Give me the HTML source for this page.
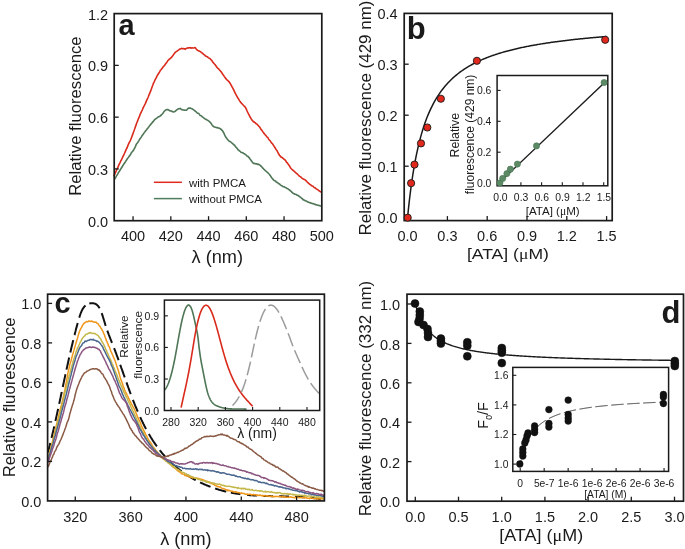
<!DOCTYPE html>
<html><head><meta charset="utf-8"><style>
html,body{margin:0;padding:0;background:#fff;width:685px;height:549px;overflow:hidden}
svg{display:block;will-change:transform}
text{font-family:"Liberation Sans",sans-serif}
</style></head><body>
<svg width="685" height="549" viewBox="0 0 685 549">
<rect width="685" height="549" fill="#fff"/>
<path d="M114.60,179.35 L115.29,178.21 L115.98,176.93 L116.67,175.50 L117.36,174.66 L118.05,173.43 L118.74,172.13 L119.43,171.17 L120.13,170.02 L120.82,168.90 L121.51,167.77 L122.20,166.76 L122.89,165.50 L123.58,164.53 L124.27,163.43 L124.96,162.55 L125.65,161.43 L126.34,160.36 L127.03,159.28 L127.72,158.35 L128.41,157.39 L129.10,156.35 L129.79,155.59 L130.48,154.55 L131.18,153.00 L131.87,152.18 L132.56,151.50 L133.25,150.47 L133.94,149.47 L134.63,148.15 L135.32,146.93 L136.01,144.95 L136.70,143.71 L137.39,142.98 L138.08,141.79 L138.77,140.85 L139.46,139.68 L140.15,138.49 L140.84,137.72 L141.53,136.67 L142.23,135.44 L142.92,134.52 L143.61,133.64 L144.30,132.56 L144.99,131.75 L145.68,130.85 L146.37,129.93 L147.06,128.95 L147.75,128.21 L148.44,127.37 L149.13,126.41 L149.82,125.39 L150.51,124.79 L151.20,123.76 L151.89,123.12 L152.58,122.00 L153.28,121.49 L153.97,120.58 L154.66,119.67 L155.35,119.16 L156.04,118.63 L156.73,118.16 L157.42,117.51 L158.11,117.07 L158.80,116.85 L159.49,116.32 L160.18,115.97 L160.87,115.54 L161.56,114.53 L162.25,114.02 L162.94,113.28 L163.64,112.15 L164.33,111.20 L165.02,110.68 L165.71,110.03 L166.40,109.79 L167.09,109.56 L167.78,109.53 L168.47,109.99 L169.16,110.25 L169.85,110.77 L170.54,111.00 L171.23,110.96 L171.92,111.25 L172.61,111.78 L173.30,111.92 L173.99,111.80 L174.69,111.70 L175.38,111.17 L176.07,110.44 L176.76,109.88 L177.45,109.42 L178.14,109.04 L178.83,108.75 L179.52,108.78 L180.21,108.32 L180.90,109.05 L181.59,109.58 L182.28,109.62 L182.97,110.00 L183.66,109.96 L184.35,110.26 L185.04,110.16 L185.74,110.30 L186.43,110.21 L187.12,109.59 L187.81,108.78 L188.50,108.12 L189.19,108.28 L189.88,108.02 L190.57,108.09 L191.26,108.47 L191.95,108.72 L192.64,109.20 L193.33,109.53 L194.02,110.08 L194.71,110.59 L195.40,111.38 L196.09,111.72 L196.79,112.51 L197.48,113.17 L198.17,113.25 L198.86,113.65 L199.55,114.65 L200.24,115.49 L200.93,115.53 L201.62,116.06 L202.31,116.90 L203.00,117.24 L203.69,117.82 L204.38,118.35 L205.07,118.94 L205.76,119.22 L206.45,119.73 L207.15,120.07 L207.84,120.40 L208.53,120.93 L209.22,121.35 L209.91,122.09 L210.60,122.71 L211.29,123.65 L211.98,125.00 L212.67,125.67 L213.36,126.41 L214.05,126.96 L214.74,127.05 L215.43,127.25 L216.12,127.48 L216.81,127.59 L217.50,127.54 L218.20,128.06 L218.89,128.11 L219.58,128.34 L220.27,128.73 L220.96,129.23 L221.65,130.05 L222.34,130.46 L223.03,131.76 L223.72,132.70 L224.41,134.40 L225.10,135.92 L225.79,137.03 L226.48,138.07 L227.17,139.04 L227.86,139.82 L228.55,140.45 L229.25,141.22 L229.94,141.50 L230.63,141.91 L231.32,142.50 L232.01,143.06 L232.70,143.67 L233.39,144.28 L234.08,145.02 L234.77,145.51 L235.46,146.69 L236.15,147.30 L236.84,148.03 L237.53,149.09 L238.22,149.94 L238.91,150.49 L239.61,151.03 L240.30,151.37 L240.99,152.38 L241.68,152.49 L242.37,152.56 L243.06,152.99 L243.75,153.50 L244.44,153.66 L245.13,154.36 L245.82,154.77 L246.51,155.58 L247.20,156.13 L247.89,156.22 L248.58,157.29 L249.27,157.74 L249.96,158.98 L250.66,159.79 L251.35,160.84 L252.04,161.53 L252.73,162.75 L253.42,163.35 L254.11,163.20 L254.80,163.63 L255.49,163.64 L256.18,163.87 L256.87,163.80 L257.56,164.41 L258.25,164.16 L258.94,164.49 L259.63,164.96 L260.32,165.34 L261.01,166.08 L261.71,166.81 L262.40,167.67 L263.09,168.30 L263.78,169.11 L264.47,169.78 L265.16,170.36 L265.85,171.02 L266.54,171.56 L267.23,172.34 L267.92,172.82 L268.61,173.55 L269.30,174.24 L269.99,175.18 L270.68,176.11 L271.37,177.44 L272.06,178.17 L272.76,179.04 L273.45,179.86 L274.14,180.45 L274.83,180.86 L275.52,181.11 L276.21,181.95 L276.90,182.38 L277.59,182.59 L278.28,183.40 L278.97,183.69 L279.66,184.14 L280.35,184.84 L281.04,185.30 L281.73,185.82 L282.42,185.96 L283.12,186.82 L283.81,186.73 L284.50,186.85 L285.19,187.48 L285.88,187.69 L286.57,188.17 L287.26,188.48 L287.95,188.96 L288.64,189.46 L289.33,189.79 L290.02,190.53 L290.71,190.99 L291.40,191.61 L292.09,192.42 L292.78,193.07 L293.47,193.44 L294.17,193.73 L294.86,194.29 L295.55,194.24 L296.24,194.65 L296.93,195.11 L297.62,195.21 L298.31,195.78 L299.00,196.18 L299.69,196.82 L300.38,197.10 L301.07,197.74 L301.76,198.48 L302.45,198.63 L303.14,199.98 L303.83,199.86 L304.52,200.23 L305.22,200.83 L305.91,201.04 L306.60,201.10 L307.29,201.77 L307.98,202.10 L308.67,202.19 L309.36,202.49 L310.05,202.86 L310.74,202.90 L311.43,203.35 L312.12,203.54 L312.81,203.63 L313.50,203.75 L314.19,204.14 L314.88,204.25 L315.57,204.73 L316.27,204.79 L316.96,205.08 L317.65,205.16 L318.34,205.35 L319.03,205.35 L319.72,205.72 L320.41,206.04 L321.10,205.85" fill="none" stroke="#4f7656" stroke-width="1.6" stroke-linejoin="round"/>
<path d="M113.80,176.31 L114.49,174.84 L115.19,173.24 L115.88,171.66 L116.58,170.22 L117.27,168.56 L117.97,167.20 L118.66,165.40 L119.35,163.93 L120.05,162.59 L120.74,161.03 L121.44,159.94 L122.13,158.27 L122.83,156.83 L123.52,155.44 L124.21,153.98 L124.91,152.27 L125.60,150.93 L126.30,149.13 L126.99,148.01 L127.69,146.13 L128.38,144.40 L129.07,142.82 L129.77,141.56 L130.46,140.26 L131.16,138.53 L131.85,136.73 L132.55,134.88 L133.24,132.81 L133.94,131.01 L134.63,129.09 L135.32,127.01 L136.02,125.15 L136.71,122.95 L137.41,121.37 L138.10,119.45 L138.80,117.80 L139.49,116.32 L140.18,114.16 L140.88,113.00 L141.57,111.29 L142.27,110.03 L142.96,108.23 L143.66,106.87 L144.35,105.51 L145.04,104.12 L145.74,102.56 L146.43,100.93 L147.13,99.40 L147.82,98.01 L148.52,96.24 L149.21,94.31 L149.90,92.97 L150.60,91.13 L151.29,89.30 L151.99,87.18 L152.68,85.46 L153.38,83.43 L154.07,82.10 L154.76,80.45 L155.46,79.21 L156.15,77.91 L156.85,76.35 L157.54,75.20 L158.24,73.99 L158.93,72.99 L159.62,71.79 L160.32,70.44 L161.01,69.69 L161.71,68.82 L162.40,68.20 L163.10,66.84 L163.79,66.23 L164.48,65.70 L165.18,64.39 L165.87,63.42 L166.57,62.63 L167.26,61.68 L167.96,60.47 L168.65,59.83 L169.35,59.09 L170.04,58.73 L170.73,57.95 L171.43,57.52 L172.12,56.56 L172.82,55.77 L173.51,54.63 L174.21,53.73 L174.90,52.87 L175.59,52.02 L176.29,51.65 L176.98,51.15 L177.68,50.55 L178.37,50.09 L179.07,49.65 L179.76,48.98 L180.45,48.88 L181.15,48.63 L181.84,48.37 L182.54,48.67 L183.23,48.47 L183.93,48.73 L184.62,48.87 L185.31,49.30 L186.01,48.54 L186.70,48.32 L187.40,47.97 L188.09,47.86 L188.79,48.02 L189.48,47.74 L190.17,47.61 L190.87,48.13 L191.56,47.88 L192.26,48.04 L192.95,47.91 L193.65,48.06 L194.34,47.81 L195.03,47.51 L195.73,48.37 L196.42,49.26 L197.12,49.99 L197.81,50.42 L198.51,50.69 L199.20,51.10 L199.89,51.39 L200.59,51.72 L201.28,52.42 L201.98,52.73 L202.67,53.44 L203.37,54.05 L204.06,54.80 L204.76,55.06 L205.45,55.92 L206.14,56.16 L206.84,56.57 L207.53,56.95 L208.23,57.60 L208.92,58.01 L209.62,58.36 L210.31,58.94 L211.00,59.69 L211.70,60.42 L212.39,61.49 L213.09,62.39 L213.78,63.20 L214.48,64.03 L215.17,64.81 L215.86,65.76 L216.56,66.72 L217.25,67.72 L217.95,68.35 L218.64,68.97 L219.34,69.82 L220.03,70.56 L220.72,71.35 L221.42,72.29 L222.11,73.24 L222.81,74.43 L223.50,75.15 L224.20,76.35 L224.89,77.40 L225.58,78.10 L226.28,79.20 L226.97,79.83 L227.67,80.32 L228.36,81.10 L229.06,81.85 L229.75,82.77 L230.44,83.88 L231.14,85.14 L231.83,86.45 L232.53,87.56 L233.22,89.02 L233.92,90.23 L234.61,91.97 L235.31,93.42 L236.00,94.65 L236.69,95.93 L237.39,97.20 L238.08,98.20 L238.78,99.39 L239.47,100.57 L240.17,101.64 L240.86,102.43 L241.55,103.54 L242.25,103.87 L242.94,104.75 L243.64,105.52 L244.33,106.10 L245.03,106.89 L245.72,107.88 L246.41,109.40 L247.11,111.06 L247.80,112.49 L248.50,113.93 L249.19,115.18 L249.89,116.67 L250.58,117.56 L251.27,119.11 L251.97,120.10 L252.66,120.69 L253.36,121.88 L254.05,121.91 L254.75,122.46 L255.44,122.92 L256.13,123.75 L256.83,123.98 L257.52,124.83 L258.22,125.54 L258.91,126.32 L259.61,127.01 L260.30,128.10 L260.99,129.46 L261.69,130.03 L262.38,131.09 L263.08,132.12 L263.77,133.13 L264.47,133.88 L265.16,134.77 L265.85,135.30 L266.55,136.42 L267.24,137.19 L267.94,137.74 L268.63,139.10 L269.33,140.12 L270.02,140.58 L270.72,141.64 L271.41,142.80 L272.10,143.33 L272.80,144.23 L273.49,145.32 L274.19,146.45 L274.88,147.48 L275.58,148.71 L276.27,149.72 L276.96,150.57 L277.66,152.02 L278.35,153.45 L279.05,154.55 L279.74,155.61 L280.44,156.34 L281.13,157.12 L281.82,157.33 L282.52,158.04 L283.21,158.37 L283.91,159.10 L284.60,159.67 L285.30,160.24 L285.99,161.30 L286.68,162.39 L287.38,162.97 L288.07,163.98 L288.77,164.94 L289.46,165.87 L290.16,167.25 L290.85,168.24 L291.54,168.98 L292.24,169.60 L292.93,170.19 L293.63,170.84 L294.32,171.27 L295.02,172.08 L295.71,172.70 L296.40,173.31 L297.10,173.74 L297.79,174.49 L298.49,175.10 L299.18,176.04 L299.88,176.41 L300.57,176.67 L301.26,177.55 L301.96,178.26 L302.65,178.56 L303.35,179.06 L304.04,179.41 L304.74,179.60 L305.43,180.15 L306.13,180.81 L306.82,181.59 L307.51,182.29 L308.21,182.98 L308.90,183.44 L309.60,184.22 L310.29,184.59 L310.99,185.08 L311.68,185.84 L312.37,186.09 L313.07,186.33 L313.76,187.07 L314.46,187.73 L315.15,187.74 L315.85,188.62 L316.54,189.09 L317.23,189.39 L317.93,189.84 L318.62,190.44 L319.32,190.86 L320.01,191.56 L320.71,191.85 L321.40,191.96" fill="none" stroke="#da2a1c" stroke-width="1.6" stroke-linejoin="round"/>
<line x1="133.07" y1="220.70" x2="133.07" y2="216.20" stroke="#1a1a1a" stroke-width="1.3"/>
<line x1="170.82" y1="220.70" x2="170.82" y2="216.20" stroke="#1a1a1a" stroke-width="1.3"/>
<line x1="208.56" y1="220.70" x2="208.56" y2="216.20" stroke="#1a1a1a" stroke-width="1.3"/>
<line x1="246.31" y1="220.70" x2="246.31" y2="216.20" stroke="#1a1a1a" stroke-width="1.3"/>
<line x1="284.05" y1="220.70" x2="284.05" y2="216.20" stroke="#1a1a1a" stroke-width="1.3"/>
<line x1="114.20" y1="168.92" x2="118.70" y2="168.92" stroke="#1a1a1a" stroke-width="1.3"/>
<line x1="114.20" y1="117.15" x2="118.70" y2="117.15" stroke="#1a1a1a" stroke-width="1.3"/>
<line x1="114.20" y1="65.38" x2="118.70" y2="65.38" stroke="#1a1a1a" stroke-width="1.3"/>
<rect x="114.20" y="13.60" width="207.60" height="207.10" fill="none" stroke="#1a1a1a" stroke-width="1.7"/>
<text x="108.10" y="226.60" font-size="14.5" text-anchor="end" font-weight="normal" fill="#1a1a1a" style='font-family:"Liberation Sans", sans-serif'>0.0</text>
<text x="108.10" y="174.82" font-size="14.5" text-anchor="end" font-weight="normal" fill="#1a1a1a" style='font-family:"Liberation Sans", sans-serif'>0.3</text>
<text x="108.10" y="123.05" font-size="14.5" text-anchor="end" font-weight="normal" fill="#1a1a1a" style='font-family:"Liberation Sans", sans-serif'>0.6</text>
<text x="108.10" y="71.28" font-size="14.5" text-anchor="end" font-weight="normal" fill="#1a1a1a" style='font-family:"Liberation Sans", sans-serif'>0.9</text>
<text x="108.10" y="19.50" font-size="14.5" text-anchor="end" font-weight="normal" fill="#1a1a1a" style='font-family:"Liberation Sans", sans-serif'>1.2</text>
<text x="133.07" y="241.10" font-size="14.5" text-anchor="middle" font-weight="normal" fill="#1a1a1a" style='font-family:"Liberation Sans", sans-serif'>400</text>
<text x="170.82" y="241.10" font-size="14.5" text-anchor="middle" font-weight="normal" fill="#1a1a1a" style='font-family:"Liberation Sans", sans-serif'>420</text>
<text x="208.56" y="241.10" font-size="14.5" text-anchor="middle" font-weight="normal" fill="#1a1a1a" style='font-family:"Liberation Sans", sans-serif'>440</text>
<text x="246.31" y="241.10" font-size="14.5" text-anchor="middle" font-weight="normal" fill="#1a1a1a" style='font-family:"Liberation Sans", sans-serif'>460</text>
<text x="284.05" y="241.10" font-size="14.5" text-anchor="middle" font-weight="normal" fill="#1a1a1a" style='font-family:"Liberation Sans", sans-serif'>480</text>
<text x="321.80" y="241.10" font-size="14.5" text-anchor="middle" font-weight="normal" fill="#1a1a1a" style='font-family:"Liberation Sans", sans-serif'>500</text>
<text x="81.30" y="116.10" font-size="16.5" text-anchor="middle" font-weight="normal" fill="#1a1a1a" transform="rotate(-90 81.30 116.10)" textLength="159.5" lengthAdjust="spacingAndGlyphs" style='font-family:"Liberation Sans", sans-serif'>Relative fluorescence</text>
<text x="217.30" y="262.80" font-size="17.5" text-anchor="middle" font-weight="normal" fill="#1a1a1a" textLength="51.5" lengthAdjust="spacingAndGlyphs" style='font-family:"Liberation Sans", sans-serif'>λ (nm)</text>
<text x="118.50" y="35.00" font-size="29" text-anchor="start" font-weight="bold" fill="#1a1a1a" style='font-family:"Liberation Sans", sans-serif'>a</text>
<line x1="153.90" y1="182.30" x2="181.90" y2="182.30" stroke="#e0291f" stroke-width="1.5"/>
<line x1="153.90" y1="198.60" x2="181.90" y2="198.60" stroke="#4f7d5c" stroke-width="1.5"/>
<text x="189.00" y="186.80" font-size="11.5" text-anchor="start" font-weight="normal" fill="#1a1a1a" style='font-family:"Liberation Sans", sans-serif'>with PMCA</text>
<text x="189.00" y="203.00" font-size="11.5" text-anchor="start" font-weight="normal" fill="#1a1a1a" style='font-family:"Liberation Sans", sans-serif'>without PMCA</text>
<line x1="447.40" y1="220.60" x2="447.40" y2="216.10" stroke="#1a1a1a" stroke-width="1.3"/>
<line x1="487.20" y1="220.60" x2="487.20" y2="216.10" stroke="#1a1a1a" stroke-width="1.3"/>
<line x1="527.00" y1="220.60" x2="527.00" y2="216.10" stroke="#1a1a1a" stroke-width="1.3"/>
<line x1="566.80" y1="220.60" x2="566.80" y2="216.10" stroke="#1a1a1a" stroke-width="1.3"/>
<line x1="606.61" y1="220.60" x2="606.61" y2="216.10" stroke="#1a1a1a" stroke-width="1.3"/>
<line x1="404.20" y1="166.20" x2="408.70" y2="166.20" stroke="#1a1a1a" stroke-width="1.3"/>
<line x1="404.20" y1="115.20" x2="408.70" y2="115.20" stroke="#1a1a1a" stroke-width="1.3"/>
<line x1="404.20" y1="64.20" x2="408.70" y2="64.20" stroke="#1a1a1a" stroke-width="1.3"/>
<rect x="404.20" y="13.40" width="208.00" height="207.20" fill="none" stroke="#1a1a1a" stroke-width="1.7"/>
<text x="397.60" y="223.40" font-size="14.5" text-anchor="end" font-weight="normal" fill="#1a1a1a" style='font-family:"Liberation Sans", sans-serif'>0.0</text>
<text x="397.60" y="172.40" font-size="14.5" text-anchor="end" font-weight="normal" fill="#1a1a1a" style='font-family:"Liberation Sans", sans-serif'>0.1</text>
<text x="397.60" y="121.40" font-size="14.5" text-anchor="end" font-weight="normal" fill="#1a1a1a" style='font-family:"Liberation Sans", sans-serif'>0.2</text>
<text x="397.60" y="70.40" font-size="14.5" text-anchor="end" font-weight="normal" fill="#1a1a1a" style='font-family:"Liberation Sans", sans-serif'>0.3</text>
<text x="397.60" y="19.40" font-size="14.5" text-anchor="end" font-weight="normal" fill="#1a1a1a" style='font-family:"Liberation Sans", sans-serif'>0.4</text>
<text x="407.60" y="241.10" font-size="14.5" text-anchor="middle" font-weight="normal" fill="#1a1a1a" style='font-family:"Liberation Sans", sans-serif'>0.0</text>
<text x="447.40" y="241.10" font-size="14.5" text-anchor="middle" font-weight="normal" fill="#1a1a1a" style='font-family:"Liberation Sans", sans-serif'>0.3</text>
<text x="487.20" y="241.10" font-size="14.5" text-anchor="middle" font-weight="normal" fill="#1a1a1a" style='font-family:"Liberation Sans", sans-serif'>0.6</text>
<text x="527.00" y="241.10" font-size="14.5" text-anchor="middle" font-weight="normal" fill="#1a1a1a" style='font-family:"Liberation Sans", sans-serif'>0.9</text>
<text x="566.80" y="241.10" font-size="14.5" text-anchor="middle" font-weight="normal" fill="#1a1a1a" style='font-family:"Liberation Sans", sans-serif'>1.2</text>
<text x="606.61" y="241.10" font-size="14.5" text-anchor="middle" font-weight="normal" fill="#1a1a1a" style='font-family:"Liberation Sans", sans-serif'>1.5</text>
<text x="371.00" y="118.00" font-size="17" text-anchor="middle" font-weight="normal" fill="#1a1a1a" transform="rotate(-90 371.00 118.00)" textLength="235" lengthAdjust="spacingAndGlyphs" style='font-family:"Liberation Sans", sans-serif'>Relative fluorescence (429 nm)</text>
<text x="507.90" y="259.40" font-size="15.5" text-anchor="middle" font-weight="normal" fill="#1a1a1a" textLength="82" lengthAdjust="spacingAndGlyphs" style='font-family:"Liberation Sans", sans-serif'>[ATA] (<tspan style="font-family:Liberation Serif">μ</tspan>M)</text>
<text x="406.80" y="39.40" font-size="31" text-anchor="start" font-weight="bold" fill="#1a1a1a" style='font-family:"Liberation Sans", sans-serif'>b</text>
<path d="M407.60,217.20 L408.60,207.38 L409.60,198.49 L410.60,190.41 L411.60,183.01 L412.60,176.24 L413.60,169.99 L414.60,164.23 L415.60,158.89 L416.60,153.93 L417.60,149.31 L418.60,144.99 L419.60,140.95 L420.60,137.17 L421.60,133.61 L422.60,130.26 L423.60,127.10 L424.60,124.11 L425.60,121.29 L426.60,118.61 L427.60,116.07 L428.60,113.65 L429.60,111.36 L430.60,109.17 L431.60,107.08 L432.60,105.09 L433.60,103.19 L434.60,101.37 L435.60,99.62 L436.60,97.95 L437.60,96.35 L438.60,94.81 L439.60,93.33 L440.60,91.90 L441.60,90.53 L442.60,89.21 L443.60,87.94 L444.60,86.72 L445.60,85.53 L446.60,84.39 L447.60,83.29 L448.60,82.22 L449.60,81.19 L450.60,80.19 L451.60,79.22 L452.60,78.28 L453.60,77.38 L454.60,76.50 L455.60,75.64 L456.60,74.81 L457.60,74.00 L458.60,73.22 L459.60,72.46 L460.60,71.72 L461.60,71.00 L462.60,70.30 L463.60,69.62 L464.60,68.96 L465.60,68.31 L466.60,67.68 L467.60,67.07 L468.60,66.47 L469.60,65.88 L470.60,65.31 L471.60,64.76 L472.60,64.22 L473.60,63.69 L474.60,63.17 L475.60,62.66 L476.60,62.17 L477.60,61.68 L478.60,61.21 L479.60,60.75 L480.60,60.30 L481.60,59.85 L482.60,59.42 L483.60,59.00 L484.60,58.58 L485.60,58.18 L486.60,57.78 L487.60,57.39 L488.60,57.00 L489.60,56.63 L490.60,56.26 L491.60,55.90 L492.60,55.55 L493.60,55.20 L494.60,54.86 L495.60,54.53 L496.60,54.20 L497.60,53.88 L498.60,53.56 L499.60,53.25 L500.60,52.95 L501.60,52.65 L502.60,52.35 L503.60,52.06 L504.60,51.78 L505.60,51.50 L506.60,51.23 L507.60,50.96 L508.60,50.69 L509.60,50.43 L510.60,50.17 L511.60,49.92 L512.60,49.67 L513.60,49.43 L514.60,49.19 L515.60,48.95 L516.60,48.72 L517.60,48.49 L518.60,48.26 L519.60,48.04 L520.60,47.82 L521.60,47.60 L522.60,47.39 L523.60,47.18 L524.60,46.98 L525.60,46.77 L526.60,46.57 L527.60,46.37 L528.60,46.18 L529.60,45.99 L530.60,45.80 L531.60,45.61 L532.60,45.43 L533.60,45.25 L534.60,45.07 L535.60,44.89 L536.60,44.72 L537.60,44.54 L538.60,44.37 L539.60,44.21 L540.60,44.04 L541.60,43.88 L542.60,43.72 L543.60,43.56 L544.60,43.40 L545.60,43.25 L546.60,43.09 L547.60,42.94 L548.60,42.79 L549.60,42.65 L550.60,42.50 L551.60,42.36 L552.60,42.22 L553.60,42.08 L554.60,41.94 L555.60,41.80 L556.60,41.66 L557.60,41.53 L558.60,41.40 L559.60,41.27 L560.60,41.14 L561.60,41.01 L562.60,40.89 L563.60,40.76 L564.60,40.64 L565.60,40.52 L566.60,40.40 L567.60,40.28 L568.60,40.16 L569.60,40.04 L570.60,39.93 L571.60,39.81 L572.60,39.70 L573.60,39.59 L574.60,39.48 L575.60,39.37 L576.60,39.26 L577.60,39.16 L578.60,39.05 L579.60,38.95 L580.60,38.84 L581.60,38.74 L582.60,38.64 L583.60,38.54 L584.60,38.44 L585.60,38.34 L586.60,38.24 L587.60,38.15 L588.60,38.05 L589.60,37.96 L590.60,37.86 L591.60,37.77 L592.60,37.68 L593.60,37.59 L594.60,37.50 L595.60,37.41 L596.60,37.32 L597.60,37.24 L598.60,37.15 L599.60,37.06 L600.60,36.98 L601.60,36.89 L602.60,36.81 L603.60,36.73 L604.60,36.65 L605.60,36.57 L606.61,36.49" fill="none" stroke="#1a1a1a" stroke-width="1.5" stroke-linejoin="round"/>
<rect x="497.1" y="75.5" width="110.69999999999993" height="110.30000000000001" fill="white" stroke="none"/>
<line x1="520.90" y1="185.80" x2="520.90" y2="182.30" stroke="#1a1a1a" stroke-width="1.1"/>
<line x1="541.60" y1="185.80" x2="541.60" y2="182.30" stroke="#1a1a1a" stroke-width="1.1"/>
<line x1="562.30" y1="185.80" x2="562.30" y2="182.30" stroke="#1a1a1a" stroke-width="1.1"/>
<line x1="583.00" y1="185.80" x2="583.00" y2="182.30" stroke="#1a1a1a" stroke-width="1.1"/>
<line x1="603.70" y1="185.80" x2="603.70" y2="182.30" stroke="#1a1a1a" stroke-width="1.1"/>
<line x1="497.10" y1="152.20" x2="500.60" y2="152.20" stroke="#1a1a1a" stroke-width="1.1"/>
<line x1="497.10" y1="121.30" x2="500.60" y2="121.30" stroke="#1a1a1a" stroke-width="1.1"/>
<line x1="497.10" y1="90.40" x2="500.60" y2="90.40" stroke="#1a1a1a" stroke-width="1.1"/>
<rect x="497.10" y="75.50" width="110.70" height="110.30" fill="none" stroke="#1a1a1a" stroke-width="1.5"/>
<line x1="500.00" y1="182.00" x2="604.10" y2="83.00" stroke="#1a1a1a" stroke-width="1.4"/>
<circle cx="499.90" cy="182.90" r="3.1" fill="#5b8a65" stroke="#4a7654" stroke-width="0.6"/>
<circle cx="502.70" cy="178.40" r="3.1" fill="#5b8a65" stroke="#4a7654" stroke-width="0.6"/>
<circle cx="506.90" cy="173.60" r="3.1" fill="#5b8a65" stroke="#4a7654" stroke-width="0.6"/>
<circle cx="510.40" cy="169.20" r="3.1" fill="#5b8a65" stroke="#4a7654" stroke-width="0.6"/>
<circle cx="517.40" cy="164.10" r="3.1" fill="#5b8a65" stroke="#4a7654" stroke-width="0.6"/>
<circle cx="536.50" cy="145.90" r="3.1" fill="#5b8a65" stroke="#4a7654" stroke-width="0.6"/>
<circle cx="604.10" cy="82.50" r="3.1" fill="#5b8a65" stroke="#4a7654" stroke-width="0.6"/>
<text x="491.40" y="187.00" font-size="10.4" text-anchor="end" font-weight="normal" fill="#1a1a1a" style='font-family:"Liberation Sans", sans-serif'>0.0</text>
<text x="491.40" y="156.10" font-size="10.4" text-anchor="end" font-weight="normal" fill="#1a1a1a" style='font-family:"Liberation Sans", sans-serif'>0.2</text>
<text x="491.40" y="125.20" font-size="10.4" text-anchor="end" font-weight="normal" fill="#1a1a1a" style='font-family:"Liberation Sans", sans-serif'>0.4</text>
<text x="491.40" y="94.30" font-size="10.4" text-anchor="end" font-weight="normal" fill="#1a1a1a" style='font-family:"Liberation Sans", sans-serif'>0.6</text>
<text x="500.40" y="200.80" font-size="10.4" text-anchor="middle" font-weight="normal" fill="#1a1a1a" style='font-family:"Liberation Sans", sans-serif'>0.0</text>
<text x="521.10" y="200.80" font-size="10.4" text-anchor="middle" font-weight="normal" fill="#1a1a1a" style='font-family:"Liberation Sans", sans-serif'>0.3</text>
<text x="541.80" y="200.80" font-size="10.4" text-anchor="middle" font-weight="normal" fill="#1a1a1a" style='font-family:"Liberation Sans", sans-serif'>0.6</text>
<text x="562.50" y="200.80" font-size="10.4" text-anchor="middle" font-weight="normal" fill="#1a1a1a" style='font-family:"Liberation Sans", sans-serif'>0.9</text>
<text x="583.20" y="200.80" font-size="10.4" text-anchor="middle" font-weight="normal" fill="#1a1a1a" style='font-family:"Liberation Sans", sans-serif'>1.2</text>
<text x="603.90" y="200.80" font-size="10.4" text-anchor="middle" font-weight="normal" fill="#1a1a1a" style='font-family:"Liberation Sans", sans-serif'>1.5</text>
<text x="552.70" y="215.00" font-size="11.5" text-anchor="middle" font-weight="normal" fill="#1a1a1a" textLength="54" lengthAdjust="spacingAndGlyphs" style='font-family:"Liberation Sans", sans-serif'>[ATA] (<tspan style="font-family:Liberation Serif">μ</tspan>M)</text>
<text x="458.80" y="135.20" font-size="12.2" text-anchor="middle" font-weight="normal" fill="#1a1a1a" transform="rotate(-90 458.80 135.20)" textLength="44.5" lengthAdjust="spacingAndGlyphs" style='font-family:"Liberation Sans", sans-serif'>Relative</text>
<text x="473.90" y="134.40" font-size="12" text-anchor="middle" font-weight="normal" fill="#1a1a1a" transform="rotate(-90 473.90 134.40)" textLength="119.5" lengthAdjust="spacingAndGlyphs" style='font-family:"Liberation Sans", sans-serif'>fluorescence (429 nm)</text>
<circle cx="407.70" cy="217.70" r="3.6" fill="#e0281c" stroke="#1a1a1a" stroke-width="0.9"/>
<circle cx="411.10" cy="183.20" r="3.6" fill="#e0281c" stroke="#1a1a1a" stroke-width="0.9"/>
<circle cx="414.50" cy="164.60" r="3.6" fill="#e0281c" stroke="#1a1a1a" stroke-width="0.9"/>
<circle cx="421.00" cy="143.40" r="3.6" fill="#e0281c" stroke="#1a1a1a" stroke-width="0.9"/>
<circle cx="427.30" cy="127.50" r="3.6" fill="#e0281c" stroke="#1a1a1a" stroke-width="0.9"/>
<circle cx="440.85" cy="98.75" r="3.6" fill="#e0281c" stroke="#1a1a1a" stroke-width="0.9"/>
<circle cx="476.90" cy="60.80" r="3.6" fill="#e0281c" stroke="#1a1a1a" stroke-width="0.9"/>
<circle cx="605.20" cy="39.80" r="3.6" fill="#e0281c" stroke="#1a1a1a" stroke-width="0.9"/>
<path d="M47.89,452.53 L48.01,452.05 L48.14,451.57 L48.26,451.08 L48.39,450.60 L48.51,450.11 L48.63,449.63 L48.76,449.14 L48.88,448.66 L49.01,448.17 L49.13,447.69 L49.25,447.20 L49.37,446.72 L49.49,446.23 L49.62,445.75 L49.74,445.26 L49.86,444.78 L49.98,444.29 L50.10,443.80 L50.22,443.32 L50.30,442.99 M51.52,437.96 L51.64,437.48 L51.75,436.99 L51.87,436.50 L51.99,436.01 L52.10,435.53 L52.22,435.04 L52.33,434.55 L52.45,434.06 L52.56,433.57 L52.68,433.08 L52.79,432.60 L52.91,432.11 L53.02,431.62 L53.13,431.13 L53.25,430.64 L53.36,430.15 L53.47,429.66 L53.59,429.18 L53.70,428.69 L53.81,428.20 L53.92,427.71 L54.04,427.22 L54.15,426.73 L54.22,426.40 M55.44,421.01 L55.55,420.52 L55.65,420.03 L55.76,419.54 L55.87,419.05 L55.98,418.56 L56.09,418.07 L56.20,417.58 L56.31,417.09 L56.42,416.60 L56.52,416.11 L56.63,415.62 L56.74,415.13 L56.85,414.64 L56.95,414.15 L57.06,413.66 L57.17,413.16 L57.28,412.67 L57.38,412.18 L57.49,411.69 L57.60,411.20 L57.70,410.71 L57.81,410.22 L57.92,409.73 L58.02,409.24 L58.09,408.91 M59.19,403.83 L59.29,403.34 L59.40,402.84 L59.50,402.35 L59.61,401.86 L59.71,401.37 L59.82,400.88 L59.92,400.39 L60.03,399.89 L60.13,399.40 L60.24,398.91 L60.34,398.42 L60.44,397.93 L60.55,397.44 L60.65,396.94 L60.76,396.45 L60.86,395.96 L60.97,395.47 L61.07,394.98 L61.18,394.48 L61.28,393.99 L61.38,393.50 L61.49,393.01 L61.59,392.52 L61.70,392.02 L61.73,391.86 M62.78,386.94 L62.88,386.45 L62.99,385.96 L63.09,385.47 L63.19,384.97 L63.30,384.48 L63.40,383.99 L63.51,383.50 L63.61,383.01 L63.72,382.52 L63.82,382.02 L63.93,381.53 L64.03,381.04 L64.14,380.55 L64.24,380.06 L64.35,379.57 L64.45,379.08 L64.56,378.58 L64.66,378.09 L64.77,377.60 L64.87,377.11 L64.98,376.62 L65.08,376.13 L65.19,375.64 L65.29,375.15 L65.40,374.65 L65.47,374.33 M66.50,369.58 L66.60,369.09 L66.71,368.60 L66.82,368.11 L66.93,367.62 L67.03,367.13 L67.14,366.64 L67.25,366.15 L67.36,365.66 L67.46,365.17 L67.57,364.68 L67.68,364.19 L67.79,363.70 L67.90,363.21 L68.01,362.72 L68.11,362.23 L68.22,361.74 L68.33,361.25 L68.44,360.76 L68.55,360.27 L68.66,359.78 L68.77,359.30 L68.88,358.81 L68.99,358.32 L69.10,357.83 L69.17,357.50 M70.33,352.46 L70.44,351.97 L70.55,351.48 L70.66,350.99 L70.78,350.51 L70.89,350.02 L71.01,349.53 L71.12,349.04 L71.23,348.56 L71.35,348.07 L71.46,347.58 L71.58,347.09 L71.69,346.61 L71.81,346.12 L71.92,345.63 L72.04,345.15 L72.16,344.66 L72.27,344.18 L72.39,343.69 L72.51,343.20 L72.62,342.72 L72.74,342.23 L72.86,341.75 L72.98,341.26 L73.09,340.78 L73.21,340.29 L73.25,340.13 M74.49,335.12 L74.62,334.64 L74.74,334.15 L74.86,333.67 L74.98,333.19 L75.11,332.70 L75.23,332.22 L75.36,331.74 L75.48,331.25 L75.61,330.77 L75.73,330.28 L75.86,329.80 L75.99,329.31 L76.11,328.83 L76.24,328.34 L76.37,327.85 L76.50,327.37 L76.64,326.88 L76.77,326.39 L76.90,325.90 L77.03,325.41 L77.17,324.92 L77.31,324.43 L77.44,323.94 L77.58,323.45 L77.72,322.95 L77.72,322.95 M79.23,317.78 L79.39,317.28 L79.54,316.77 L79.70,316.26 L79.86,315.75 L80.02,315.24 L80.19,314.74 L80.36,314.24 L80.54,313.73 L80.72,313.24 L80.91,312.75 L81.10,312.26 L81.30,311.78 L81.50,311.30 L81.72,310.83 L81.94,310.37 L82.17,309.92 L82.40,309.47 L82.65,309.04 L82.91,308.62 L83.17,308.20 L83.45,307.80 L83.74,307.41 L84.03,307.04 L84.34,306.67 L84.67,306.32 L85.00,305.99 L85.35,305.67 L85.47,305.57 M89.30,303.58 L89.79,303.46 L90.28,303.36 L90.78,303.29 L91.27,303.24 L91.77,303.21 L92.27,303.21 L92.76,303.23 L93.24,303.28 L93.72,303.36 L94.19,303.46 L94.64,303.59 L95.08,303.75 L95.50,303.94 L95.90,304.15 L96.29,304.39 L96.66,304.66 L97.02,304.95 L97.36,305.26 L97.69,305.59 L98.01,305.94 L98.31,306.32 L98.60,306.71 L98.88,307.11 L99.15,307.53 L99.41,307.97 L99.58,308.27 M101.68,313.15 L101.86,313.66 L102.03,314.16 L102.21,314.67 L102.38,315.17 L102.55,315.68 L102.72,316.18 L102.88,316.69 L103.04,317.19 L103.20,317.69 L103.36,318.19 L103.52,318.69 L103.67,319.19 L103.82,319.69 L103.98,320.19 L104.13,320.69 L104.28,321.18 L104.43,321.68 L104.58,322.17 L104.73,322.67 L104.87,323.16 L105.02,323.65 L105.17,324.13 L105.32,324.62 L105.47,325.11 L105.63,325.59 L105.73,325.91 M107.32,330.64 L107.49,331.11 L107.65,331.57 L107.82,332.03 L107.99,332.50 L108.16,332.96 L108.33,333.42 L108.50,333.87 L108.67,334.33 L108.84,334.79 L109.02,335.24 L109.19,335.70 L109.36,336.15 L109.54,336.61 L109.72,337.06 L109.89,337.51 L110.07,337.96 L110.24,338.42 L110.42,338.87 L110.60,339.32 L110.78,339.77 L110.96,340.22 L111.13,340.67 L111.31,341.12 L111.49,341.57 L111.67,342.02 L111.85,342.47 L111.97,342.77 M114.11,348.18 L114.29,348.64 L114.46,349.09 L114.64,349.55 L114.82,350.01 L114.99,350.46 L115.17,350.92 L115.34,351.38 L115.51,351.84 L115.69,352.30 L115.86,352.76 L116.04,353.22 L116.21,353.68 L116.38,354.14 L116.55,354.61 L116.73,355.07 L116.90,355.53 L117.07,356.00 L117.24,356.46 L117.41,356.93 L117.58,357.39 L117.75,357.86 L117.92,358.33 L118.09,358.80 L118.26,359.26 L118.43,359.73 L118.55,360.04 M120.24,364.76 L120.41,365.23 L120.57,365.70 L120.74,366.18 L120.91,366.65 L121.08,367.13 L121.25,367.60 L121.41,368.08 L121.58,368.55 L121.75,369.03 L121.92,369.50 L122.09,369.98 L122.25,370.46 L122.42,370.93 L122.59,371.41 L122.76,371.89 L122.93,372.37 L123.10,372.84 L123.26,373.32 L123.43,373.80 L123.60,374.28 L123.77,374.76 L123.94,375.24 L124.11,375.72 L124.28,376.20 L124.44,376.67 L124.61,377.15 L124.73,377.47 M126.49,382.44 L126.66,382.92 L126.83,383.40 L127.00,383.88 L127.17,384.36 L127.34,384.84 L127.52,385.32 L127.69,385.80 L127.86,386.28 L128.04,386.76 L128.21,387.24 L128.39,387.73 L128.56,388.21 L128.73,388.69 L128.91,389.17 L129.09,389.65 L129.26,390.13 L129.44,390.61 L129.61,391.09 L129.79,391.57 L129.97,392.05 L130.15,392.53 L130.33,393.01 L130.50,393.49 L130.68,393.97 L130.74,394.13 M132.93,399.86 L133.12,400.34 L133.30,400.81 L133.49,401.29 L133.68,401.76 L133.87,402.24 L134.05,402.71 L134.24,403.19 L134.43,403.66 L134.62,404.14 L134.82,404.61 L135.01,405.08 L135.20,405.55 L135.39,406.03 L135.59,406.50 L135.78,406.97 L135.98,407.44 L136.17,407.91 L136.37,408.38 L136.56,408.85 L136.76,409.32 L136.96,409.79 L137.16,410.26 L137.36,410.73 L137.56,411.19 L137.76,411.66 L137.76,411.66 M140.17,417.07 L140.38,417.53 L140.60,417.99 L140.81,418.45 L141.02,418.91 L141.24,419.37 L141.46,419.82 L141.67,420.28 L141.89,420.73 L142.11,421.19 L142.33,421.64 L142.55,422.10 L142.77,422.55 L143.00,423.00 L143.22,423.45 L143.44,423.91 L143.67,424.36 L143.90,424.80 L144.13,425.25 L144.35,425.70 L144.58,426.15 L144.82,426.59 L145.05,427.04 L145.28,427.48 L145.51,427.93 L145.75,428.37 L145.99,428.81 L146.06,428.96 M148.82,433.91 L149.07,434.34 L149.33,434.77 L149.58,435.20 L149.83,435.63 L150.09,436.06 L150.35,436.48 L150.60,436.91 L150.86,437.33 L151.12,437.76 L151.39,438.18 L151.65,438.60 L151.91,439.02 L152.18,439.44 L152.44,439.86 L152.71,440.27 L152.98,440.69 L153.25,441.11 L153.53,441.52 L153.80,441.93 L154.07,442.34 L154.35,442.76 L154.63,443.17 L154.91,443.57 L155.19,443.98 L155.47,444.39 L155.75,444.79 L156.04,445.20 L156.32,445.60 L156.61,446.00 L156.90,446.40 L156.90,446.40 M159.77,450.21 L160.07,450.60 L160.38,450.98 L160.69,451.37 L160.99,451.75 L161.31,452.13 L161.62,452.51 L161.93,452.89 L162.25,453.27 L162.57,453.65 L162.88,454.02 L163.20,454.39 L163.53,454.77 L163.85,455.14 L164.18,455.51 L164.50,455.88 L164.83,456.24 L165.16,456.61 L165.49,456.97 L165.49,456.97 M170.20,461.80 L170.56,462.14 L170.92,462.48 L171.28,462.82 L171.65,463.16 L172.01,463.50 L172.38,463.83 L172.75,464.16 L173.11,464.50 L173.49,464.82 L173.86,465.15 L174.23,465.48 L174.61,465.80 L174.99,466.13 L175.37,466.45 L175.75,466.77 L176.13,467.09 L176.52,467.40 L176.90,467.72 L177.29,468.03 L177.68,468.34 L178.07,468.66 L178.47,468.96 L178.86,469.27 L179.26,469.58 L179.65,469.88 L180.05,470.18 L180.45,470.48 L180.85,470.78 L181.26,471.08 L181.53,471.28 M185.92,474.33 L186.34,474.61 L186.76,474.88 L187.19,475.15 L187.61,475.42 L188.04,475.69 L188.46,475.96 L188.89,476.23 L189.32,476.49 L189.75,476.76 L190.18,477.02 L190.61,477.28 L191.05,477.53 L191.48,477.79 L191.92,478.04 L192.36,478.29 L192.79,478.55 L193.23,478.79 L193.68,479.04 L194.12,479.29 L194.56,479.53 L195.00,479.77 L195.45,480.01 L195.75,480.17 M200.11,482.38 L200.56,482.60 L201.02,482.82 L201.48,483.04 L201.94,483.25 L202.40,483.46 L202.86,483.67 L203.32,483.88 L203.78,484.09 L204.25,484.29 L204.71,484.50 L205.18,484.70 L205.64,484.90 L206.11,485.09 L206.58,485.29 L207.04,485.48 L207.51,485.67 L207.98,485.86 L208.45,486.05 L208.93,486.24 L209.40,486.42 L209.87,486.60 L210.34,486.78 L210.50,486.84 M215.11,488.48 L215.59,488.64 L216.07,488.80 L216.55,488.95 L217.03,489.11 L217.52,489.26 L218.00,489.41 L218.48,489.56 L218.97,489.70 L219.45,489.84 L219.93,489.99 L220.42,490.13 L220.90,490.26 L221.39,490.40 L221.88,490.53 L222.36,490.66 L222.85,490.79 L223.34,490.92 L223.83,491.05 L224.31,491.17 L224.80,491.29 L225.29,491.41 L225.78,491.53 L226.27,491.65 L226.27,491.65 M230.85,492.63 L231.34,492.73 L231.83,492.82 L232.33,492.91 L232.82,493.00 L233.31,493.09 L233.81,493.18 L234.30,493.26 L234.79,493.35 L235.29,493.43 L235.78,493.51 L236.28,493.59 L236.77,493.66 L237.27,493.74 L237.76,493.81 L238.26,493.88 L238.75,493.95 L239.25,494.02 L239.74,494.09 L240.24,494.15 L240.41,494.18 M247.04,494.91 L247.54,494.96 L248.04,495.01 L248.54,495.05 L249.04,495.09 L249.54,495.13 L250.04,495.17 L250.54,495.21 L251.04,495.25 L251.54,495.29 L252.04,495.32 L252.54,495.36 L253.04,495.39 L253.54,495.43 L254.04,495.46 L254.55,495.49 L255.05,495.52 L255.55,495.55 L256.05,495.58 L256.55,495.61 L256.89,495.63 M263.08,495.90 L263.59,495.92 L264.09,495.94 L264.59,495.95 L265.10,495.97 L265.60,495.98 L266.11,496.00 L266.61,496.01 L267.11,496.03 L267.62,496.04 L268.12,496.06 L268.62,496.07 L269.13,496.08 L269.63,496.10 L270.14,496.11 L270.64,496.12 L271.14,496.13 L271.65,496.14 L272.15,496.15 L272.66,496.16 L272.99,496.17 M279.05,496.29 L279.55,496.30 L280.06,496.31 L280.56,496.32 L281.07,496.33 L281.57,496.34 L282.08,496.35 L282.58,496.36 L283.09,496.37 L283.59,496.38 L284.09,496.39 L284.60,496.41 L285.10,496.42 L285.61,496.43 L286.11,496.44 L286.62,496.45 L287.12,496.47 L287.63,496.48 L288.13,496.49 L288.63,496.51 L288.97,496.52 M295.02,496.73 L295.52,496.75 L296.02,496.77 L296.53,496.79 L297.03,496.82 L297.53,496.84 L298.04,496.87 L298.54,496.89 L299.04,496.92 L299.54,496.95 L300.05,496.97 L300.55,497.00 L301.05,497.03 L301.55,497.06 L302.06,497.10 L302.56,497.13 L303.06,497.16 L303.56,497.20 L304.06,497.23 L304.56,497.27 L304.90,497.29 M311.07,497.85 L311.57,497.90 L312.07,497.95 L312.57,498.01 L313.07,498.07 L313.57,498.13 L314.07,498.19 L314.57,498.25 L315.06,498.31 L315.56,498.37 L316.06,498.44 L316.56,498.51 L317.05,498.57 L317.55,498.64 L318.05,498.72 L318.55,498.79 L319.04,498.86 L319.54,498.94 L320.04,499.02 L320.53,499.10 L320.86,499.15" fill="none" stroke="#111" stroke-width="2.0" stroke-linejoin="round"/>
<path d="M47.60,457.82 L48.29,456.25 L48.99,454.44 L49.68,451.82 L50.37,449.44 L51.07,447.36 L51.76,444.32 L52.45,441.59 L53.15,438.59 L53.84,436.02 L54.53,433.84 L55.23,430.05 L55.92,427.50 L56.61,424.21 L57.31,421.65 L58.00,418.91 L58.69,415.71 L59.38,413.07 L60.08,410.22 L60.77,407.36 L61.46,404.95 L62.16,402.00 L62.85,398.95 L63.54,395.94 L64.24,392.76 L64.93,389.65 L65.62,385.68 L66.32,382.48 L67.01,378.32 L67.70,374.09 L68.40,370.73 L69.09,368.26 L69.78,364.66 L70.48,362.47 L71.17,360.37 L71.86,357.45 L72.56,355.08 L73.25,352.62 L73.94,350.38 L74.64,347.77 L75.33,345.38 L76.02,343.02 L76.72,340.52 L77.41,338.50 L78.10,335.86 L78.80,333.60 L79.49,331.57 L80.18,329.81 L80.88,328.44 L81.57,327.39 L82.26,325.92 L82.95,324.68 L83.65,323.70 L84.34,323.13 L85.03,322.61 L85.73,322.15 L86.42,321.62 L87.11,321.65 L87.81,321.88 L88.50,321.00 L89.19,321.44 L89.89,320.96 L90.58,321.52 L91.27,321.29 L91.97,320.97 L92.66,321.56 L93.35,322.07 L94.05,321.78 L94.74,322.25 L95.43,322.21 L96.13,322.05 L96.82,323.17 L97.51,323.50 L98.21,323.90 L98.90,325.22 L99.59,325.97 L100.29,326.75 L100.98,328.19 L101.67,328.95 L102.37,330.65 L103.06,331.68 L103.75,333.60 L104.45,334.86 L105.14,337.26 L105.83,338.77 L106.52,340.90 L107.22,342.16 L107.91,344.00 L108.60,346.02 L109.30,346.74 L109.99,348.74 L110.68,350.82 L111.38,352.23 L112.07,353.94 L112.76,355.24 L113.46,357.14 L114.15,358.57 L114.84,360.24 L115.54,362.07 L116.23,364.36 L116.92,366.46 L117.62,368.64 L118.31,370.22 L119.00,372.96 L119.70,375.63 L120.39,378.06 L121.08,379.96 L121.78,381.91 L122.47,383.48 L123.16,386.40 L123.86,387.39 L124.55,389.77 L125.24,391.37 L125.94,392.61 L126.63,393.92 L127.32,395.56 L128.02,396.68 L128.71,398.43 L129.40,399.74 L130.09,401.23 L130.79,402.68 L131.48,404.22 L132.17,405.04 L132.87,406.75 L133.56,407.66 L134.25,409.03 L134.95,410.52 L135.64,411.89 L136.33,413.88 L137.03,415.42 L137.72,417.09 L138.41,418.39 L139.11,420.10 L139.80,421.54 L140.49,423.04 L141.19,425.07 L141.88,426.63 L142.57,427.85 L143.27,429.79 L143.96,430.68 L144.65,432.48 L145.35,433.73 L146.04,435.07 L146.73,436.20 L147.43,437.94 L148.12,439.03 L148.81,440.34 L149.51,441.20 L150.20,441.94 L150.89,443.24 L151.58,444.09 L152.28,445.53 L152.97,446.73 L153.66,447.50 L154.36,448.25 L155.05,449.26 L155.74,450.33 L156.44,450.82 L157.13,452.09 L157.82,452.94 L158.52,453.55 L159.21,454.36 L159.90,455.25 L160.60,455.72 L161.29,456.41 L161.98,457.47 L162.68,457.98 L163.37,458.98 L164.06,458.93 L164.76,459.33 L165.45,460.61 L166.14,461.20 L166.84,461.35 L167.53,461.75 L168.22,462.68 L168.92,462.84 L169.61,463.77 L170.30,463.90 L171.00,464.97 L171.69,465.09 L172.38,466.14 L173.08,467.17 L173.77,467.30 L174.46,468.13 L175.15,468.35 L175.85,468.85 L176.54,469.25 L177.23,470.43 L177.93,470.69 L178.62,471.63 L179.31,471.44 L180.01,472.17 L180.70,472.72 L181.39,473.52 L182.09,474.06 L182.78,473.87 L183.47,474.15 L184.17,474.38 L184.86,475.51 L185.55,475.49 L186.25,475.66 L186.94,476.09 L187.63,475.72 L188.33,476.16 L189.02,477.04 L189.71,477.09 L190.41,477.20 L191.10,477.07 L191.79,477.61 L192.49,478.04 L193.18,477.41 L193.87,477.84 L194.57,477.84 L195.26,478.15 L195.95,478.18 L196.65,478.25 L197.34,478.19 L198.03,478.53 L198.72,478.52 L199.42,478.79 L200.11,478.98 L200.80,479.34 L201.50,479.23 L202.19,479.51 L202.88,480.09 L203.58,480.01 L204.27,480.25 L204.96,480.79 L205.66,480.92 L206.35,481.16 L207.04,481.48 L207.74,481.42 L208.43,482.15 L209.12,482.68 L209.82,482.81 L210.51,482.60 L211.20,483.38 L211.90,483.41 L212.59,483.91 L213.28,484.32 L213.98,484.32 L214.67,485.28 L215.36,485.25 L216.06,485.78 L216.75,486.05 L217.44,486.54 L218.14,486.80 L218.83,486.43 L219.52,487.10 L220.22,486.84 L220.91,487.53 L221.60,488.09 L222.29,488.40 L222.99,488.75 L223.68,488.58 L224.37,488.99 L225.07,489.17 L225.76,489.69 L226.45,490.00 L227.15,489.73 L227.84,490.97 L228.53,490.23 L229.23,490.34 L229.92,490.78 L230.61,491.00 L231.31,491.13 L232.00,491.01 L232.69,491.72 L233.39,491.53 L234.08,492.07 L234.77,492.19 L235.47,491.68 L236.16,491.90 L236.85,492.04 L237.55,492.50 L238.24,492.59 L238.93,492.77 L239.63,492.63 L240.32,493.07 L241.01,493.44 L241.71,492.87 L242.40,493.27 L243.09,493.50 L243.78,493.51 L244.48,493.60 L245.17,494.20 L245.86,494.18 L246.56,494.17 L247.25,493.86 L247.94,494.70 L248.64,494.32 L249.33,494.18 L250.02,494.32 L250.72,494.37 L251.41,495.11 L252.10,494.71 L252.80,494.75 L253.49,494.28 L254.18,495.07 L254.88,494.70 L255.57,494.75 L256.26,495.26 L256.96,494.96 L257.65,495.45 L258.34,495.59 L259.04,494.92 L259.73,495.40 L260.42,495.10 L261.12,495.54 L261.81,495.84 L262.50,495.33 L263.20,496.17 L263.89,495.70 L264.58,495.53 L265.28,495.85 L265.97,496.13 L266.66,495.64 L267.35,496.03 L268.05,495.73 L268.74,496.42 L269.43,496.20 L270.13,496.10 L270.82,496.51 L271.51,495.97 L272.21,496.23 L272.90,496.83 L273.59,496.38 L274.29,496.79 L274.98,496.54 L275.67,496.35 L276.37,496.50 L277.06,496.61 L277.75,496.53 L278.45,496.46 L279.14,496.50 L279.83,496.36 L280.53,496.79 L281.22,496.89 L281.91,497.01 L282.61,496.40 L283.30,497.09 L283.99,496.91 L284.69,496.59 L285.38,497.00 L286.07,497.21 L286.77,497.17 L287.46,497.25 L288.15,497.33 L288.85,497.35 L289.54,497.14 L290.23,496.66 L290.92,497.02 L291.62,497.32 L292.31,497.15 L293.00,497.46 L293.70,497.52 L294.39,497.36 L295.08,497.85 L295.78,497.17 L296.47,497.67 L297.16,497.35 L297.86,497.30 L298.55,497.68 L299.24,497.41 L299.94,497.81 L300.63,497.33 L301.32,497.66 L302.02,497.48 L302.71,497.66 L303.40,497.66 L304.10,497.51 L304.79,497.99 L305.48,497.55 L306.18,497.65 L306.87,498.16 L307.56,498.22 L308.26,498.18 L308.95,498.14 L309.64,498.66 L310.34,497.83 L311.03,497.99 L311.72,497.97 L312.42,498.49 L313.11,498.38 L313.80,498.63 L314.49,498.65 L315.19,498.39 L315.88,498.30 L316.57,498.30 L317.27,499.16 L317.96,498.90 L318.65,498.86 L319.35,498.68 L320.04,498.78 L320.73,498.80 L321.43,498.87 L322.12,498.41 L322.81,499.06 L323.51,499.04 L324.20,499.28" fill="none" stroke="#f0961a" stroke-width="1.5" stroke-linejoin="round"/>
<path d="M47.60,459.86 L48.29,457.93 L48.99,455.53 L49.68,453.48 L50.37,450.31 L51.07,448.28 L51.76,446.52 L52.45,443.26 L53.15,440.91 L53.84,438.53 L54.53,435.45 L55.23,433.13 L55.92,429.83 L56.61,426.91 L57.31,424.23 L58.00,421.29 L58.69,418.83 L59.38,415.86 L60.08,413.12 L60.77,409.86 L61.46,407.84 L62.16,404.26 L62.85,401.36 L63.54,398.57 L64.24,395.51 L64.93,392.53 L65.62,389.86 L66.32,387.24 L67.01,384.37 L67.70,381.68 L68.40,378.58 L69.09,375.84 L69.78,373.90 L70.48,370.76 L71.17,368.41 L71.86,366.00 L72.56,363.77 L73.25,360.74 L73.94,358.70 L74.64,356.53 L75.33,354.46 L76.02,351.91 L76.72,350.57 L77.41,348.04 L78.10,347.10 L78.80,345.53 L79.49,344.03 L80.18,342.16 L80.88,341.40 L81.57,339.74 L82.26,338.55 L82.95,337.61 L83.65,336.74 L84.34,336.19 L85.03,335.65 L85.73,334.30 L86.42,334.16 L87.11,334.08 L87.81,333.56 L88.50,333.36 L89.19,332.67 L89.89,333.16 L90.58,332.47 L91.27,332.91 L91.97,333.26 L92.66,333.50 L93.35,333.31 L94.05,333.59 L94.74,333.44 L95.43,333.73 L96.13,334.48 L96.82,334.64 L97.51,335.19 L98.21,335.57 L98.90,336.77 L99.59,337.81 L100.29,338.46 L100.98,339.63 L101.67,341.33 L102.37,342.23 L103.06,343.44 L103.75,344.60 L104.45,346.16 L105.14,347.73 L105.83,349.64 L106.52,350.68 L107.22,352.83 L107.91,353.72 L108.60,355.44 L109.30,357.31 L109.99,358.62 L110.68,360.07 L111.38,361.84 L112.07,363.59 L112.76,364.67 L113.46,366.67 L114.15,368.36 L114.84,369.95 L115.54,371.93 L116.23,373.31 L116.92,375.10 L117.62,376.96 L118.31,378.88 L119.00,380.37 L119.70,382.50 L120.39,383.55 L121.08,385.71 L121.78,386.77 L122.47,388.51 L123.16,390.18 L123.86,392.12 L124.55,393.33 L125.24,394.49 L125.94,396.39 L126.63,397.48 L127.32,398.79 L128.02,400.55 L128.71,401.92 L129.40,403.58 L130.09,404.67 L130.79,406.37 L131.48,407.91 L132.17,409.31 L132.87,410.73 L133.56,412.08 L134.25,414.01 L134.95,415.34 L135.64,416.96 L136.33,418.28 L137.03,419.90 L137.72,421.15 L138.41,422.94 L139.11,424.61 L139.80,425.92 L140.49,427.57 L141.19,428.88 L141.88,430.56 L142.57,431.55 L143.27,432.55 L143.96,434.39 L144.65,435.53 L145.35,436.57 L146.04,438.18 L146.73,439.25 L147.43,440.43 L148.12,441.32 L148.81,442.51 L149.51,443.55 L150.20,444.92 L150.89,445.26 L151.58,446.36 L152.28,447.35 L152.97,447.70 L153.66,448.57 L154.36,450.33 L155.05,450.14 L155.74,451.50 L156.44,451.89 L157.13,452.65 L157.82,453.05 L158.52,454.02 L159.21,455.12 L159.90,455.24 L160.60,456.38 L161.29,456.95 L161.98,458.00 L162.68,457.99 L163.37,459.03 L164.06,459.54 L164.76,459.84 L165.45,460.08 L166.14,461.44 L166.84,461.29 L167.53,462.08 L168.22,462.97 L168.92,463.57 L169.61,463.62 L170.30,464.35 L171.00,464.81 L171.69,465.68 L172.38,466.52 L173.08,465.93 L173.77,467.10 L174.46,466.64 L175.15,467.82 L175.85,468.01 L176.54,469.23 L177.23,469.22 L177.93,469.43 L178.62,469.92 L179.31,470.32 L180.01,470.92 L180.70,471.24 L181.39,471.84 L182.09,472.44 L182.78,472.61 L183.47,472.50 L184.17,472.77 L184.86,473.34 L185.55,474.14 L186.25,474.13 L186.94,474.38 L187.63,474.91 L188.33,474.84 L189.02,475.23 L189.71,475.95 L190.41,476.04 L191.10,476.30 L191.79,476.78 L192.49,476.84 L193.18,477.09 L193.87,477.42 L194.57,477.95 L195.26,478.07 L195.95,478.01 L196.65,478.48 L197.34,478.96 L198.03,479.50 L198.72,478.98 L199.42,479.58 L200.11,479.65 L200.80,480.14 L201.50,480.26 L202.19,480.73 L202.88,480.70 L203.58,480.63 L204.27,480.83 L204.96,481.26 L205.66,481.45 L206.35,482.13 L207.04,482.13 L207.74,481.60 L208.43,482.16 L209.12,481.91 L209.82,482.00 L210.51,482.77 L211.20,482.88 L211.90,482.65 L212.59,483.48 L213.28,482.98 L213.98,483.09 L214.67,483.69 L215.36,483.74 L216.06,483.79 L216.75,483.96 L217.44,484.18 L218.14,484.23 L218.83,484.36 L219.52,484.07 L220.22,484.35 L220.91,484.98 L221.60,484.79 L222.29,485.24 L222.99,485.54 L223.68,485.28 L224.37,485.57 L225.07,486.15 L225.76,485.93 L226.45,486.35 L227.15,486.40 L227.84,486.33 L228.53,486.24 L229.23,486.18 L229.92,486.23 L230.61,486.75 L231.31,486.87 L232.00,486.83 L232.69,487.20 L233.39,486.96 L234.08,487.50 L234.77,487.35 L235.47,487.44 L236.16,487.56 L236.85,487.65 L237.55,488.41 L238.24,487.49 L238.93,488.05 L239.63,488.42 L240.32,488.40 L241.01,488.25 L241.71,488.86 L242.40,488.27 L243.09,488.31 L243.78,488.88 L244.48,488.48 L245.17,488.35 L245.86,489.26 L246.56,489.33 L247.25,489.42 L247.94,489.21 L248.64,489.48 L249.33,489.28 L250.02,490.05 L250.72,489.91 L251.41,489.99 L252.10,489.41 L252.80,490.19 L253.49,490.46 L254.18,490.48 L254.88,490.46 L255.57,490.35 L256.26,490.35 L256.96,490.68 L257.65,490.71 L258.34,490.76 L259.04,490.71 L259.73,491.29 L260.42,490.66 L261.12,491.03 L261.81,490.98 L262.50,491.46 L263.20,491.65 L263.89,491.68 L264.58,491.64 L265.28,491.18 L265.97,492.13 L266.66,491.82 L267.35,491.75 L268.05,491.86 L268.74,491.84 L269.43,492.11 L270.13,492.16 L270.82,492.07 L271.51,491.60 L272.21,492.31 L272.90,492.51 L273.59,492.60 L274.29,492.51 L274.98,492.73 L275.67,492.95 L276.37,492.65 L277.06,493.21 L277.75,492.43 L278.45,492.68 L279.14,492.84 L279.83,492.53 L280.53,492.96 L281.22,493.60 L281.91,493.67 L282.61,493.46 L283.30,493.93 L283.99,493.64 L284.69,493.52 L285.38,493.78 L286.07,493.76 L286.77,494.05 L287.46,493.56 L288.15,494.26 L288.85,493.97 L289.54,494.37 L290.23,493.84 L290.92,494.19 L291.62,494.39 L292.31,494.66 L293.00,494.21 L293.70,495.00 L294.39,494.77 L295.08,494.59 L295.78,495.10 L296.47,494.90 L297.16,495.23 L297.86,495.60 L298.55,495.28 L299.24,495.03 L299.94,495.13 L300.63,495.45 L301.32,495.45 L302.02,495.24 L302.71,495.36 L303.40,495.76 L304.10,496.26 L304.79,495.09 L305.48,496.00 L306.18,495.84 L306.87,496.16 L307.56,496.26 L308.26,496.13 L308.95,495.94 L309.64,495.92 L310.34,495.88 L311.03,496.73 L311.72,496.45 L312.42,496.44 L313.11,496.59 L313.80,496.40 L314.49,496.89 L315.19,497.22 L315.88,497.26 L316.57,496.66 L317.27,497.48 L317.96,497.02 L318.65,496.82 L319.35,497.07 L320.04,497.22 L320.73,497.54 L321.43,497.37 L322.12,497.34 L322.81,497.73 L323.51,498.36 L324.20,497.79" fill="none" stroke="#c5b84a" stroke-width="1.5" stroke-linejoin="round"/>
<path d="M47.60,461.26 L48.29,458.99 L48.99,457.43 L49.68,454.05 L50.37,452.54 L51.07,449.64 L51.76,447.49 L52.45,445.26 L53.15,443.70 L53.84,440.31 L54.53,437.59 L55.23,435.93 L55.92,432.92 L56.61,430.57 L57.31,428.10 L58.00,425.59 L58.69,422.95 L59.38,420.48 L60.08,417.91 L60.77,415.41 L61.46,412.45 L62.16,409.72 L62.85,406.98 L63.54,404.71 L64.24,401.86 L64.93,399.30 L65.62,396.58 L66.32,394.15 L67.01,391.04 L67.70,388.43 L68.40,385.19 L69.09,382.46 L69.78,379.89 L70.48,376.90 L71.17,374.63 L71.86,371.41 L72.56,369.09 L73.25,365.86 L73.94,363.68 L74.64,361.45 L75.33,359.17 L76.02,356.62 L76.72,355.08 L77.41,353.44 L78.10,351.67 L78.80,349.80 L79.49,348.43 L80.18,347.02 L80.88,346.35 L81.57,345.55 L82.26,344.17 L82.95,343.09 L83.65,342.88 L84.34,342.41 L85.03,341.04 L85.73,341.31 L86.42,341.44 L87.11,340.79 L87.81,340.45 L88.50,340.20 L89.19,340.19 L89.89,339.56 L90.58,339.50 L91.27,339.78 L91.97,339.51 L92.66,339.80 L93.35,339.35 L94.05,340.16 L94.74,340.37 L95.43,340.39 L96.13,340.69 L96.82,341.37 L97.51,341.07 L98.21,341.55 L98.90,342.04 L99.59,342.85 L100.29,343.45 L100.98,344.60 L101.67,345.46 L102.37,346.42 L103.06,347.66 L103.75,349.68 L104.45,350.75 L105.14,352.12 L105.83,353.58 L106.52,354.91 L107.22,356.46 L107.91,357.75 L108.60,358.82 L109.30,360.15 L109.99,361.55 L110.68,363.05 L111.38,365.36 L112.07,366.50 L112.76,368.02 L113.46,370.16 L114.15,372.05 L114.84,374.23 L115.54,375.84 L116.23,378.09 L116.92,379.92 L117.62,381.98 L118.31,384.02 L119.00,385.97 L119.70,387.34 L120.39,388.42 L121.08,390.29 L121.78,392.11 L122.47,394.18 L123.16,395.41 L123.86,397.09 L124.55,398.25 L125.24,399.92 L125.94,401.39 L126.63,402.51 L127.32,404.19 L128.02,405.63 L128.71,406.67 L129.40,408.30 L130.09,409.80 L130.79,410.75 L131.48,412.09 L132.17,413.37 L132.87,414.67 L133.56,416.24 L134.25,417.49 L134.95,418.89 L135.64,420.16 L136.33,421.35 L137.03,422.87 L137.72,424.55 L138.41,425.52 L139.11,426.98 L139.80,428.87 L140.49,430.04 L141.19,430.86 L141.88,432.43 L142.57,433.34 L143.27,435.10 L143.96,435.71 L144.65,437.00 L145.35,438.43 L146.04,438.94 L146.73,440.51 L147.43,440.99 L148.12,442.24 L148.81,443.06 L149.51,444.04 L150.20,445.01 L150.89,445.83 L151.58,446.44 L152.28,447.74 L152.97,448.51 L153.66,449.43 L154.36,450.22 L155.05,450.27 L155.74,451.65 L156.44,452.35 L157.13,452.57 L157.82,453.62 L158.52,454.36 L159.21,454.48 L159.90,454.88 L160.60,455.72 L161.29,457.08 L161.98,457.00 L162.68,457.18 L163.37,457.94 L164.06,458.27 L164.76,458.92 L165.45,459.54 L166.14,459.35 L166.84,460.55 L167.53,461.27 L168.22,461.31 L168.92,461.70 L169.61,462.49 L170.30,462.31 L171.00,462.72 L171.69,463.07 L172.38,463.76 L173.08,464.26 L173.77,464.50 L174.46,465.00 L175.15,465.40 L175.85,465.63 L176.54,465.61 L177.23,466.04 L177.93,466.70 L178.62,466.39 L179.31,466.84 L180.01,467.04 L180.70,467.32 L181.39,467.31 L182.09,467.43 L182.78,468.59 L183.47,468.36 L184.17,468.10 L184.86,468.40 L185.55,468.71 L186.25,468.56 L186.94,468.90 L187.63,468.67 L188.33,468.81 L189.02,468.94 L189.71,468.89 L190.41,468.44 L191.10,469.10 L191.79,469.19 L192.49,469.26 L193.18,468.92 L193.87,469.27 L194.57,469.25 L195.26,468.77 L195.95,468.68 L196.65,469.37 L197.34,469.03 L198.03,469.54 L198.72,469.85 L199.42,469.19 L200.11,469.20 L200.80,469.42 L201.50,469.64 L202.19,469.24 L202.88,469.90 L203.58,469.91 L204.27,469.90 L204.96,469.68 L205.66,470.13 L206.35,470.20 L207.04,469.78 L207.74,470.71 L208.43,470.21 L209.12,470.49 L209.82,470.38 L210.51,470.72 L211.20,471.04 L211.90,470.67 L212.59,470.58 L213.28,471.01 L213.98,470.93 L214.67,471.20 L215.36,471.50 L216.06,471.65 L216.75,472.13 L217.44,471.69 L218.14,472.18 L218.83,472.11 L219.52,472.72 L220.22,473.16 L220.91,472.75 L221.60,473.24 L222.29,472.83 L222.99,472.72 L223.68,472.95 L224.37,473.02 L225.07,473.33 L225.76,473.66 L226.45,474.16 L227.15,474.20 L227.84,474.30 L228.53,474.23 L229.23,474.31 L229.92,474.66 L230.61,474.84 L231.31,475.03 L232.00,475.22 L232.69,475.25 L233.39,474.96 L234.08,475.33 L234.77,475.56 L235.47,476.35 L236.16,475.98 L236.85,476.42 L237.55,476.78 L238.24,476.67 L238.93,476.65 L239.63,476.84 L240.32,476.82 L241.01,477.32 L241.71,477.69 L242.40,477.72 L243.09,477.94 L243.78,478.09 L244.48,478.58 L245.17,478.09 L245.86,478.46 L246.56,478.77 L247.25,479.07 L247.94,478.33 L248.64,478.97 L249.33,479.22 L250.02,479.19 L250.72,479.83 L251.41,479.84 L252.10,479.86 L252.80,479.73 L253.49,479.98 L254.18,480.23 L254.88,480.77 L255.57,480.52 L256.26,480.48 L256.96,480.81 L257.65,481.20 L258.34,481.94 L259.04,482.32 L259.73,481.75 L260.42,482.28 L261.12,482.57 L261.81,482.71 L262.50,482.54 L263.20,482.41 L263.89,482.79 L264.58,482.62 L265.28,483.32 L265.97,483.63 L266.66,483.14 L267.35,483.77 L268.05,484.03 L268.74,484.44 L269.43,484.65 L270.13,484.68 L270.82,484.48 L271.51,484.73 L272.21,485.30 L272.90,485.02 L273.59,485.34 L274.29,485.91 L274.98,485.72 L275.67,485.52 L276.37,485.96 L277.06,486.37 L277.75,486.33 L278.45,486.84 L279.14,487.04 L279.83,486.73 L280.53,486.93 L281.22,487.20 L281.91,487.10 L282.61,487.66 L283.30,487.69 L283.99,488.10 L284.69,487.92 L285.38,488.02 L286.07,488.87 L286.77,488.35 L287.46,488.59 L288.15,488.72 L288.85,488.99 L289.54,489.00 L290.23,489.38 L290.92,489.38 L291.62,489.62 L292.31,489.97 L293.00,490.22 L293.70,490.32 L294.39,490.18 L295.08,490.62 L295.78,490.65 L296.47,490.82 L297.16,490.57 L297.86,491.32 L298.55,491.28 L299.24,491.89 L299.94,491.78 L300.63,491.50 L301.32,491.59 L302.02,492.37 L302.71,492.01 L303.40,492.55 L304.10,492.46 L304.79,493.21 L305.48,492.85 L306.18,493.35 L306.87,493.45 L307.56,493.15 L308.26,493.33 L308.95,493.93 L309.64,493.70 L310.34,493.62 L311.03,494.28 L311.72,494.76 L312.42,494.25 L313.11,494.75 L313.80,494.49 L314.49,495.01 L315.19,494.75 L315.88,495.27 L316.57,495.21 L317.27,495.16 L317.96,495.39 L318.65,495.33 L319.35,495.31 L320.04,495.45 L320.73,495.83 L321.43,495.70 L322.12,496.20 L322.81,496.35 L323.51,496.45 L324.20,496.33" fill="none" stroke="#4a6890" stroke-width="1.5" stroke-linejoin="round"/>
<path d="M47.60,463.03 L48.29,461.23 L48.99,459.72 L49.68,457.30 L50.37,455.47 L51.07,453.52 L51.76,451.51 L52.45,449.28 L53.15,447.19 L53.84,445.45 L54.53,442.83 L55.23,440.99 L55.92,439.00 L56.61,436.51 L57.31,433.40 L58.00,431.69 L58.69,429.22 L59.38,426.82 L60.08,423.84 L60.77,421.97 L61.46,419.03 L62.16,417.13 L62.85,414.55 L63.54,412.39 L64.24,409.11 L64.93,406.27 L65.62,404.34 L66.32,401.73 L67.01,398.83 L67.70,396.68 L68.40,393.93 L69.09,390.85 L69.78,388.50 L70.48,385.89 L71.17,383.40 L71.86,380.91 L72.56,378.12 L73.25,375.70 L73.94,373.39 L74.64,370.76 L75.33,368.31 L76.02,365.99 L76.72,363.82 L77.41,361.26 L78.10,359.81 L78.80,357.69 L79.49,356.31 L80.18,354.43 L80.88,353.72 L81.57,352.40 L82.26,351.01 L82.95,350.55 L83.65,349.57 L84.34,349.60 L85.03,348.76 L85.73,348.03 L86.42,347.95 L87.11,347.62 L87.81,347.73 L88.50,347.37 L89.19,347.29 L89.89,346.80 L90.58,347.23 L91.27,347.55 L91.97,347.21 L92.66,347.10 L93.35,347.26 L94.05,347.12 L94.74,347.59 L95.43,347.49 L96.13,348.05 L96.82,348.25 L97.51,348.49 L98.21,349.25 L98.90,349.22 L99.59,350.22 L100.29,350.76 L100.98,352.63 L101.67,353.93 L102.37,355.03 L103.06,356.75 L103.75,357.92 L104.45,359.44 L105.14,360.73 L105.83,362.15 L106.52,363.93 L107.22,365.24 L107.91,366.69 L108.60,368.38 L109.30,369.53 L109.99,370.52 L110.68,372.20 L111.38,373.40 L112.07,374.88 L112.76,376.05 L113.46,378.04 L114.15,379.66 L114.84,380.41 L115.54,382.42 L116.23,384.04 L116.92,385.34 L117.62,387.44 L118.31,389.64 L119.00,391.38 L119.70,393.40 L120.39,394.41 L121.08,396.05 L121.78,397.60 L122.47,398.62 L123.16,399.33 L123.86,399.91 L124.55,400.61 L125.24,401.39 L125.94,402.74 L126.63,403.38 L127.32,406.28 L128.02,407.79 L128.71,409.64 L129.40,412.11 L130.09,413.40 L130.79,415.43 L131.48,416.64 L132.17,418.14 L132.87,419.29 L133.56,420.39 L134.25,420.87 L134.95,421.86 L135.64,422.95 L136.33,423.78 L137.03,425.68 L137.72,427.24 L138.41,428.74 L139.11,431.19 L139.80,432.91 L140.49,433.79 L141.19,435.70 L141.88,437.19 L142.57,438.31 L143.27,438.98 L143.96,439.92 L144.65,441.22 L145.35,442.03 L146.04,443.01 L146.73,443.80 L147.43,444.73 L148.12,445.21 L148.81,446.04 L149.51,447.55 L150.20,447.49 L150.89,448.41 L151.58,448.99 L152.28,449.65 L152.97,450.04 L153.66,451.05 L154.36,451.54 L155.05,452.37 L155.74,453.28 L156.44,453.39 L157.13,454.09 L157.82,454.18 L158.52,454.98 L159.21,455.83 L159.90,455.89 L160.60,456.18 L161.29,456.81 L161.98,457.10 L162.68,457.46 L163.37,457.78 L164.06,458.71 L164.76,458.32 L165.45,458.74 L166.14,459.00 L166.84,459.75 L167.53,459.65 L168.22,460.32 L168.92,460.31 L169.61,460.53 L170.30,460.44 L171.00,461.38 L171.69,461.48 L172.38,461.71 L173.08,461.85 L173.77,462.03 L174.46,462.07 L175.15,462.86 L175.85,462.92 L176.54,462.97 L177.23,463.10 L177.93,463.47 L178.62,463.58 L179.31,464.15 L180.01,464.04 L180.70,463.78 L181.39,463.71 L182.09,463.96 L182.78,463.79 L183.47,463.99 L184.17,464.00 L184.86,463.94 L185.55,463.73 L186.25,463.38 L186.94,463.34 L187.63,462.69 L188.33,462.60 L189.02,462.55 L189.71,462.19 L190.41,461.67 L191.10,461.68 L191.79,461.70 L192.49,462.81 L193.18,462.31 L193.87,463.03 L194.57,463.84 L195.26,463.89 L195.95,464.07 L196.65,463.65 L197.34,463.91 L198.03,464.38 L198.72,463.48 L199.42,463.45 L200.11,463.13 L200.80,463.09 L201.50,463.08 L202.19,463.24 L202.88,462.60 L203.58,462.41 L204.27,462.72 L204.96,462.73 L205.66,463.02 L206.35,462.84 L207.04,462.51 L207.74,462.82 L208.43,462.99 L209.12,462.82 L209.82,462.71 L210.51,463.03 L211.20,462.84 L211.90,462.54 L212.59,463.43 L213.28,462.87 L213.98,463.22 L214.67,463.34 L215.36,463.45 L216.06,463.60 L216.75,463.44 L217.44,464.08 L218.14,464.10 L218.83,464.26 L219.52,464.68 L220.22,464.85 L220.91,465.08 L221.60,465.38 L222.29,465.21 L222.99,464.89 L223.68,465.51 L224.37,465.65 L225.07,465.85 L225.76,465.87 L226.45,465.99 L227.15,466.60 L227.84,466.84 L228.53,466.51 L229.23,467.12 L229.92,467.14 L230.61,467.27 L231.31,467.73 L232.00,467.74 L232.69,467.80 L233.39,468.14 L234.08,467.81 L234.77,468.34 L235.47,468.56 L236.16,468.51 L236.85,469.08 L237.55,469.29 L238.24,469.26 L238.93,469.55 L239.63,469.94 L240.32,470.23 L241.01,469.96 L241.71,470.42 L242.40,470.79 L243.09,470.71 L243.78,470.72 L244.48,470.92 L245.17,471.23 L245.86,471.26 L246.56,472.23 L247.25,471.79 L247.94,472.24 L248.64,472.41 L249.33,472.75 L250.02,472.72 L250.72,472.72 L251.41,473.68 L252.10,473.49 L252.80,473.78 L253.49,474.04 L254.18,474.55 L254.88,474.68 L255.57,475.03 L256.26,475.19 L256.96,475.28 L257.65,475.56 L258.34,475.57 L259.04,475.53 L259.73,476.22 L260.42,476.27 L261.12,477.45 L261.81,477.45 L262.50,477.62 L263.20,477.45 L263.89,478.37 L264.58,477.69 L265.28,478.08 L265.97,478.45 L266.66,478.67 L267.35,479.20 L268.05,479.48 L268.74,480.17 L269.43,480.20 L270.13,480.51 L270.82,480.56 L271.51,480.68 L272.21,480.79 L272.90,480.84 L273.59,481.25 L274.29,481.62 L274.98,482.16 L275.67,481.79 L276.37,482.12 L277.06,482.76 L277.75,482.69 L278.45,483.28 L279.14,483.33 L279.83,483.48 L280.53,483.58 L281.22,484.12 L281.91,484.20 L282.61,484.46 L283.30,484.69 L283.99,485.12 L284.69,485.34 L285.38,485.10 L286.07,485.72 L286.77,486.08 L287.46,486.47 L288.15,486.62 L288.85,486.70 L289.54,486.58 L290.23,486.89 L290.92,487.52 L291.62,487.33 L292.31,487.97 L293.00,488.24 L293.70,487.87 L294.39,488.45 L295.08,488.51 L295.78,489.25 L296.47,489.15 L297.16,489.01 L297.86,489.44 L298.55,489.30 L299.24,489.68 L299.94,489.96 L300.63,490.13 L301.32,490.36 L302.02,490.24 L302.71,490.18 L303.40,490.73 L304.10,490.78 L304.79,491.00 L305.48,491.88 L306.18,491.81 L306.87,491.64 L307.56,491.49 L308.26,491.69 L308.95,492.27 L309.64,492.60 L310.34,492.42 L311.03,492.68 L311.72,492.86 L312.42,493.21 L313.11,492.62 L313.80,493.28 L314.49,493.48 L315.19,493.76 L315.88,493.76 L316.57,493.52 L317.27,493.78 L317.96,493.67 L318.65,494.23 L319.35,494.35 L320.04,494.55 L320.73,494.30 L321.43,494.37 L322.12,495.15 L322.81,494.93 L323.51,495.43 L324.20,495.21" fill="none" stroke="#8c5580" stroke-width="1.5" stroke-linejoin="round"/>
<path d="M47.60,467.34 L48.29,466.37 L48.99,464.94 L49.68,462.99 L50.37,461.10 L51.07,460.24 L51.76,458.53 L52.45,457.14 L53.15,454.91 L53.84,454.22 L54.53,451.94 L55.23,450.94 L55.92,449.92 L56.61,447.79 L57.31,446.33 L58.00,445.25 L58.69,444.34 L59.38,442.91 L60.08,440.92 L60.77,439.86 L61.46,438.24 L62.16,436.57 L62.85,434.90 L63.54,432.81 L64.24,431.23 L64.93,429.22 L65.62,427.56 L66.32,425.21 L67.01,422.70 L67.70,421.41 L68.40,419.90 L69.09,417.36 L69.78,414.03 L70.48,411.74 L71.17,409.21 L71.86,406.98 L72.56,404.70 L73.25,402.65 L73.94,400.33 L74.64,397.47 L75.33,394.25 L76.02,391.62 L76.72,389.22 L77.41,387.33 L78.10,385.50 L78.80,383.80 L79.49,381.80 L80.18,380.47 L80.88,378.86 L81.57,377.51 L82.26,376.07 L82.95,375.19 L83.65,373.98 L84.34,373.20 L85.03,372.67 L85.73,372.40 L86.42,371.72 L87.11,371.03 L87.81,370.93 L88.50,370.62 L89.19,370.18 L89.89,369.63 L90.58,369.50 L91.27,369.10 L91.97,368.89 L92.66,368.76 L93.35,368.84 L94.05,369.04 L94.74,368.97 L95.43,368.80 L96.13,368.69 L96.82,368.94 L97.51,369.27 L98.21,370.04 L98.90,369.57 L99.59,370.92 L100.29,371.04 L100.98,372.30 L101.67,373.47 L102.37,373.82 L103.06,374.45 L103.75,376.37 L104.45,377.51 L105.14,378.39 L105.83,379.75 L106.52,380.46 L107.22,382.20 L107.91,383.61 L108.60,384.70 L109.30,386.12 L109.99,388.11 L110.68,390.00 L111.38,391.53 L112.07,394.00 L112.76,395.67 L113.46,397.22 L114.15,399.09 L114.84,400.48 L115.54,401.83 L116.23,402.81 L116.92,404.38 L117.62,405.05 L118.31,406.41 L119.00,407.09 L119.70,408.14 L120.39,409.71 L121.08,410.61 L121.78,411.69 L122.47,412.88 L123.16,413.91 L123.86,414.74 L124.55,416.18 L125.24,417.42 L125.94,418.65 L126.63,420.17 L127.32,421.58 L128.02,423.00 L128.71,424.55 L129.40,426.15 L130.09,428.00 L130.79,428.59 L131.48,430.15 L132.17,430.79 L132.87,432.61 L133.56,433.12 L134.25,434.18 L134.95,435.35 L135.64,436.11 L136.33,436.30 L137.03,437.60 L137.72,438.17 L138.41,439.14 L139.11,439.78 L139.80,440.68 L140.49,441.33 L141.19,441.98 L141.88,443.07 L142.57,443.15 L143.27,444.17 L143.96,444.79 L144.65,445.73 L145.35,446.38 L146.04,447.16 L146.73,447.78 L147.43,448.47 L148.12,448.85 L148.81,449.91 L149.51,450.63 L150.20,451.02 L150.89,451.60 L151.58,452.17 L152.28,453.30 L152.97,453.44 L153.66,453.98 L154.36,454.27 L155.05,454.65 L155.74,454.95 L156.44,455.92 L157.13,455.43 L157.82,456.22 L158.52,456.39 L159.21,456.55 L159.90,456.39 L160.60,456.59 L161.29,457.23 L161.98,456.85 L162.68,457.24 L163.37,457.15 L164.06,457.06 L164.76,457.01 L165.45,456.39 L166.14,456.42 L166.84,456.53 L167.53,455.85 L168.22,456.36 L168.92,455.58 L169.61,455.46 L170.30,454.98 L171.00,455.07 L171.69,454.53 L172.38,454.40 L173.08,453.91 L173.77,454.22 L174.46,453.25 L175.15,453.50 L175.85,453.16 L176.54,452.93 L177.23,452.28 L177.93,452.50 L178.62,452.18 L179.31,451.67 L180.01,451.40 L180.70,450.96 L181.39,450.83 L182.09,450.13 L182.78,450.13 L183.47,449.74 L184.17,448.92 L184.86,448.25 L185.55,448.49 L186.25,448.08 L186.94,448.02 L187.63,447.32 L188.33,446.75 L189.02,446.09 L189.71,445.96 L190.41,445.37 L191.10,444.76 L191.79,444.52 L192.49,444.32 L193.18,443.59 L193.87,442.81 L194.57,442.66 L195.26,441.81 L195.95,441.21 L196.65,441.25 L197.34,440.52 L198.03,440.48 L198.72,439.84 L199.42,439.14 L200.11,439.00 L200.80,438.89 L201.50,438.16 L202.19,437.61 L202.88,437.40 L203.58,437.08 L204.27,436.73 L204.96,436.48 L205.66,436.71 L206.35,436.72 L207.04,436.22 L207.74,436.42 L208.43,436.38 L209.12,436.55 L209.82,436.09 L210.51,436.08 L211.20,436.31 L211.90,436.27 L212.59,436.35 L213.28,436.61 L213.98,436.16 L214.67,436.27 L215.36,435.87 L216.06,435.91 L216.75,435.55 L217.44,435.23 L218.14,435.04 L218.83,434.69 L219.52,434.68 L220.22,434.67 L220.91,434.05 L221.60,434.69 L222.29,433.96 L222.99,434.71 L223.68,435.01 L224.37,434.89 L225.07,435.24 L225.76,435.38 L226.45,436.08 L227.15,435.36 L227.84,436.22 L228.53,436.28 L229.23,437.12 L229.92,437.71 L230.61,438.00 L231.31,438.19 L232.00,438.41 L232.69,438.49 L233.39,439.32 L234.08,439.51 L234.77,439.49 L235.47,439.73 L236.16,440.25 L236.85,441.04 L237.55,441.45 L238.24,441.91 L238.93,441.69 L239.63,442.18 L240.32,443.01 L241.01,443.11 L241.71,443.65 L242.40,443.54 L243.09,444.19 L243.78,444.70 L244.48,445.04 L245.17,445.47 L245.86,445.60 L246.56,446.87 L247.25,446.95 L247.94,447.02 L248.64,448.12 L249.33,448.34 L250.02,448.99 L250.72,449.25 L251.41,449.60 L252.10,450.11 L252.80,450.89 L253.49,451.52 L254.18,451.97 L254.88,452.53 L255.57,453.20 L256.26,453.51 L256.96,454.24 L257.65,454.81 L258.34,455.16 L259.04,455.63 L259.73,456.10 L260.42,456.47 L261.12,456.93 L261.81,458.19 L262.50,458.39 L263.20,458.78 L263.89,459.82 L264.58,460.15 L265.28,460.40 L265.97,461.10 L266.66,461.25 L267.35,461.82 L268.05,462.61 L268.74,462.84 L269.43,462.92 L270.13,463.56 L270.82,464.08 L271.51,464.15 L272.21,464.46 L272.90,465.41 L273.59,465.25 L274.29,465.37 L274.98,466.12 L275.67,467.04 L276.37,467.01 L277.06,467.47 L277.75,467.08 L278.45,467.88 L279.14,468.72 L279.83,468.72 L280.53,469.57 L281.22,469.78 L281.91,470.19 L282.61,470.96 L283.30,470.87 L283.99,471.34 L284.69,471.96 L285.38,472.48 L286.07,472.50 L286.77,473.73 L287.46,473.99 L288.15,474.41 L288.85,475.12 L289.54,475.38 L290.23,476.30 L290.92,476.53 L291.62,477.21 L292.31,477.31 L293.00,477.97 L293.70,478.63 L294.39,478.78 L295.08,479.34 L295.78,479.96 L296.47,480.72 L297.16,481.08 L297.86,481.57 L298.55,481.85 L299.24,482.43 L299.94,483.00 L300.63,483.06 L301.32,483.52 L302.02,483.94 L302.71,483.67 L303.40,484.50 L304.10,484.97 L304.79,485.38 L305.48,485.43 L306.18,486.06 L306.87,485.95 L307.56,486.36 L308.26,487.10 L308.95,486.60 L309.64,487.18 L310.34,487.41 L311.03,487.66 L311.72,487.78 L312.42,488.30 L313.11,488.09 L313.80,488.24 L314.49,488.90 L315.19,488.68 L315.88,489.27 L316.57,489.38 L317.27,489.39 L317.96,489.67 L318.65,489.91 L319.35,490.23 L320.04,490.15 L320.73,490.43 L321.43,490.31 L322.12,490.78 L322.81,490.55 L323.51,491.20 L324.20,491.28" fill="none" stroke="#8a5a45" stroke-width="1.5" stroke-linejoin="round"/>
<line x1="75.27" y1="500.90" x2="75.27" y2="496.40" stroke="#1a1a1a" stroke-width="1.3"/>
<line x1="130.61" y1="500.90" x2="130.61" y2="496.40" stroke="#1a1a1a" stroke-width="1.3"/>
<line x1="185.95" y1="500.90" x2="185.95" y2="496.40" stroke="#1a1a1a" stroke-width="1.3"/>
<line x1="241.29" y1="500.90" x2="241.29" y2="496.40" stroke="#1a1a1a" stroke-width="1.3"/>
<line x1="296.63" y1="500.90" x2="296.63" y2="496.40" stroke="#1a1a1a" stroke-width="1.3"/>
<line x1="47.60" y1="461.40" x2="52.10" y2="461.40" stroke="#1a1a1a" stroke-width="1.3"/>
<line x1="47.60" y1="421.90" x2="52.10" y2="421.90" stroke="#1a1a1a" stroke-width="1.3"/>
<line x1="47.60" y1="382.40" x2="52.10" y2="382.40" stroke="#1a1a1a" stroke-width="1.3"/>
<line x1="47.60" y1="342.90" x2="52.10" y2="342.90" stroke="#1a1a1a" stroke-width="1.3"/>
<line x1="47.60" y1="303.40" x2="52.10" y2="303.40" stroke="#1a1a1a" stroke-width="1.3"/>
<rect x="47.60" y="294.20" width="276.80" height="206.70" fill="none" stroke="#1a1a1a" stroke-width="1.7"/>
<text x="41.30" y="506.80" font-size="14.5" text-anchor="end" font-weight="normal" fill="#1a1a1a" style='font-family:"Liberation Sans", sans-serif'>0.0</text>
<text x="41.30" y="467.30" font-size="14.5" text-anchor="end" font-weight="normal" fill="#1a1a1a" style='font-family:"Liberation Sans", sans-serif'>0.2</text>
<text x="41.30" y="427.80" font-size="14.5" text-anchor="end" font-weight="normal" fill="#1a1a1a" style='font-family:"Liberation Sans", sans-serif'>0.4</text>
<text x="41.30" y="388.30" font-size="14.5" text-anchor="end" font-weight="normal" fill="#1a1a1a" style='font-family:"Liberation Sans", sans-serif'>0.6</text>
<text x="41.30" y="348.80" font-size="14.5" text-anchor="end" font-weight="normal" fill="#1a1a1a" style='font-family:"Liberation Sans", sans-serif'>0.8</text>
<text x="41.30" y="309.30" font-size="14.5" text-anchor="end" font-weight="normal" fill="#1a1a1a" style='font-family:"Liberation Sans", sans-serif'>1.0</text>
<text x="75.27" y="521.80" font-size="14.5" text-anchor="middle" font-weight="normal" fill="#1a1a1a" style='font-family:"Liberation Sans", sans-serif'>320</text>
<text x="130.61" y="521.80" font-size="14.5" text-anchor="middle" font-weight="normal" fill="#1a1a1a" style='font-family:"Liberation Sans", sans-serif'>360</text>
<text x="185.95" y="521.80" font-size="14.5" text-anchor="middle" font-weight="normal" fill="#1a1a1a" style='font-family:"Liberation Sans", sans-serif'>400</text>
<text x="241.29" y="521.80" font-size="14.5" text-anchor="middle" font-weight="normal" fill="#1a1a1a" style='font-family:"Liberation Sans", sans-serif'>440</text>
<text x="296.63" y="521.80" font-size="14.5" text-anchor="middle" font-weight="normal" fill="#1a1a1a" style='font-family:"Liberation Sans", sans-serif'>480</text>
<text x="14.60" y="397.40" font-size="16.5" text-anchor="middle" font-weight="normal" fill="#1a1a1a" transform="rotate(-90 14.60 397.40)" textLength="159.8" lengthAdjust="spacingAndGlyphs" style='font-family:"Liberation Sans", sans-serif'>Relative fluorescence</text>
<text x="185.90" y="544.50" font-size="17.5" text-anchor="middle" font-weight="normal" fill="#1a1a1a" textLength="51.5" lengthAdjust="spacingAndGlyphs" style='font-family:"Liberation Sans", sans-serif'>λ (nm)</text>
<text x="54.50" y="312.80" font-size="29" text-anchor="start" font-weight="bold" fill="#1a1a1a" style='font-family:"Liberation Sans", sans-serif'>c</text>
<rect x="164.4" y="300.1" width="155.29999999999998" height="110.39999999999998" fill="white" stroke="none"/>
<path d="M164.40,390.16 L164.81,389.76 L165.23,389.28 L165.64,388.74 L166.05,388.12 L166.46,387.44 L166.88,386.68 L167.29,385.86 L167.70,384.96 L168.11,383.99 L168.53,382.96 L168.94,381.85 L169.35,380.68 L169.76,379.43 L170.18,378.12 L170.59,376.74 L171.00,375.29 L171.41,373.78 L171.83,372.19 L172.24,370.54 L172.65,368.82 L173.06,367.03 L173.48,365.18 L173.89,363.26 L174.30,361.27 L174.71,359.22 L175.13,357.10 L175.54,354.91 L175.95,352.67 L176.36,350.37 L176.78,348.04 L177.19,345.69 L177.60,343.34 L178.01,340.98 L178.43,338.65 L178.84,336.34 L179.25,334.07 L179.66,331.85 L180.08,329.68 L180.49,327.56 L180.90,325.51 L181.32,323.52 L181.73,321.61 L182.14,319.78 L182.55,318.04 L182.97,316.40 L183.38,314.86 L183.79,313.41 L184.20,312.08 L184.62,310.85 L185.03,309.73 L185.44,308.73 L185.85,307.84 L186.27,307.08 L186.68,306.43 L187.09,305.91 L187.50,305.51 L187.92,305.24 L188.33,305.11 L188.74,305.11 L189.15,305.24 L189.57,305.52 L189.98,305.94 L190.39,306.50 L190.80,307.21 L191.22,308.07 L191.63,309.09 L192.04,310.25 L192.45,311.58 L192.87,313.06 L193.28,314.68 L193.69,316.42 L194.10,318.24 L194.52,320.12 L194.93,322.03 L195.34,323.95 L195.75,325.86 L196.17,327.72 L196.58,329.55 L196.99,331.47 L197.41,333.67 L197.82,336.33 L198.23,339.62 L198.64,343.36 L199.06,347.04 L199.47,350.41 L199.88,353.48 L200.29,356.28 L200.71,358.86 L201.12,361.26 L201.53,363.53 L201.94,365.70 L202.36,367.80 L202.77,369.90 L203.18,372.01 L203.59,374.13 L204.01,376.25 L204.42,378.36 L204.83,380.44 L205.24,382.48 L205.66,384.45 L206.07,386.35 L206.48,388.16 L206.89,389.87 L207.31,391.47 L207.72,392.93 L208.13,394.26 L208.54,395.47 L208.96,396.57 L209.37,397.57 L209.78,398.48 L210.19,399.30 L210.61,400.05 L211.02,400.73 L211.43,401.35 L211.84,401.92 L212.26,402.45 L212.67,402.92 L213.08,403.35 L213.49,403.74 L213.91,404.10 L214.32,404.42 L214.73,404.71 L215.15,404.98 L215.56,405.22 L215.97,405.44 L216.38,405.65 L216.80,405.84 L217.21,406.02 L217.62,406.20 L218.03,406.36 L218.45,406.52 L218.86,406.68 L219.27,406.83 L219.68,406.97 L220.10,407.10 L220.51,407.23 L220.92,407.35 L221.33,407.47 L221.75,407.58 L222.16,407.69 L222.57,407.79 L222.98,407.88 L223.40,407.97 L223.81,408.06 L224.22,408.14 L224.63,408.22 L225.05,408.29 L225.46,408.35 L225.87,408.42 L226.28,408.47 L226.70,408.53 L227.11,408.58 L227.52,408.63 L227.93,408.67 L228.35,408.71 L228.76,408.75 L229.17,408.78 L229.58,408.81 L230.00,408.84 L230.41,408.86 L230.82,408.89 L231.24,408.91 L231.65,408.92 L232.06,408.94 L232.47,408.95 L232.89,408.96 L233.30,408.97 L233.71,408.98 L234.12,408.99 L234.54,408.99 L234.95,409.00 L235.36,409.00 L235.77,409.00 L236.19,409.01 L236.60,409.01 L237.01,409.01 L237.42,409.01 L237.84,409.01 L238.25,409.01 L238.66,409.01 L239.07,409.01 L239.49,409.01 L239.90,409.01 L240.31,409.01 L240.72,409.01 L241.14,409.01 L241.55,409.02 L241.96,409.02 L242.37,409.03 L242.79,409.04 L243.20,409.05 L243.61,409.06 L244.02,409.07 L244.44,409.09 L244.85,409.11 L245.26,409.13 L245.67,409.15 L246.09,409.17 L246.50,409.20" fill="none" stroke="#4f7656" stroke-width="1.6" stroke-linejoin="round"/>
<path d="M181.10,407.55 L181.46,405.87 L181.82,404.22 L182.18,402.58 L182.54,400.96 L182.90,399.35 L183.26,397.74 L183.62,396.14 L183.97,394.54 L184.33,392.94 L184.69,391.34 L185.05,389.72 L185.41,388.10 L185.77,386.46 L186.13,384.81 L186.49,383.13 L186.85,381.43 L187.21,379.71 L187.57,377.95 L187.93,376.17 L188.29,374.35 L188.65,372.49 L189.00,370.59 L189.36,368.64 L189.72,366.66 L190.08,364.65 L190.44,362.60 L190.80,360.52 L191.16,358.42 L191.52,356.29 L191.88,354.14 L192.24,351.97 L192.60,349.78 L192.96,347.59 L193.32,345.38 L193.68,343.17 L194.03,340.98 L194.39,338.82 L194.75,336.71 L195.11,334.68 L195.47,332.71 L195.83,330.82 L196.19,328.99 L196.55,327.24 L196.91,325.56 L197.27,323.95 L197.63,322.41 L197.99,320.94 L198.35,319.54 L198.71,318.21 L199.06,316.94 L199.42,315.74 L199.78,314.61 L200.14,313.55 L200.50,312.55 L200.86,311.62 L201.22,310.75 L201.58,309.95 L201.94,309.22 L202.30,308.54 L202.66,307.93 L203.02,307.39 L203.38,306.91 L203.74,306.49 L204.09,306.13 L204.45,305.83 L204.81,305.60 L205.17,305.42 L205.53,305.31 L205.89,305.26 L206.25,305.26 L206.61,305.33 L206.97,305.45 L207.33,305.63 L207.69,305.87 L208.05,306.17 L208.41,306.52 L208.77,306.93 L209.13,307.39 L209.48,307.92 L209.84,308.49 L210.20,309.12 L210.56,309.80 L210.92,310.53 L211.28,311.31 L211.64,312.13 L212.00,312.99 L212.36,313.90 L212.72,314.85 L213.08,315.84 L213.44,316.86 L213.80,317.91 L214.16,319.00 L214.51,320.12 L214.87,321.27 L215.23,322.45 L215.59,323.65 L215.95,324.87 L216.31,326.12 L216.67,327.38 L217.03,328.66 L217.39,329.96 L217.75,331.27 L218.11,332.60 L218.47,333.93 L218.83,335.27 L219.19,336.62 L219.54,337.97 L219.90,339.33 L220.26,340.69 L220.62,342.04 L220.98,343.40 L221.34,344.75 L221.70,346.09 L222.06,347.42 L222.42,348.75 L222.78,350.06 L223.14,351.36 L223.50,352.64 L223.86,353.90 L224.22,355.15 L224.57,356.37 L224.93,357.57 L225.29,358.75 L225.65,359.91 L226.01,361.04 L226.37,362.15 L226.73,363.25 L227.09,364.32 L227.45,365.37 L227.81,366.40 L228.17,367.41 L228.53,368.40 L228.89,369.37 L229.25,370.32 L229.61,371.25 L229.96,372.17 L230.32,373.06 L230.68,373.94 L231.04,374.80 L231.40,375.64 L231.76,376.47 L232.12,377.28 L232.48,378.08 L232.84,378.85 L233.20,379.62 L233.56,380.36 L233.92,381.10 L234.28,381.81 L234.64,382.52 L234.99,383.21 L235.35,383.88 L235.71,384.55 L236.07,385.19 L236.43,385.83 L236.79,386.45 L237.15,387.07 L237.51,387.66 L237.87,388.25 L238.23,388.83 L238.59,389.40 L238.95,389.95 L239.31,390.50 L239.67,391.03 L240.02,391.56 L240.38,392.07 L240.74,392.58 L241.10,393.08 L241.46,393.57 L241.82,394.05 L242.18,394.52 L242.54,394.99 L242.90,395.44 L243.26,395.90 L243.62,396.34 L243.98,396.78 L244.34,397.21 L244.70,397.64 L245.05,398.06 L245.41,398.48 L245.77,398.89 L246.13,399.30 L246.49,399.71 L246.85,400.11 L247.21,400.50 L247.57,400.90 L247.93,401.29 L248.29,401.67 L248.65,402.06 L249.01,402.44 L249.37,402.83 L249.73,403.21 L250.08,403.59 L250.44,403.97 L250.80,404.35 L251.16,404.73 L251.52,405.11 L251.88,405.49 L252.24,405.87 L252.60,406.25" fill="none" stroke="#da2a1c" stroke-width="1.6" stroke-linejoin="round"/>
<path d="M232.40,405.55 L232.84,405.13 L233.28,404.68 L233.71,404.22 L234.15,403.74 L234.59,403.25 L235.03,402.73 L235.46,402.19 L235.90,401.63 L236.34,401.04 L236.78,400.43 L237.21,399.79 L237.65,399.12 L238.09,398.43 L238.53,397.70 L238.97,396.95 L239.40,396.16 L239.84,395.33 L240.28,394.47 L240.72,393.58 L241.15,392.64 L241.59,391.67 L242.03,390.66 L242.47,389.60 L242.90,388.50 L243.34,387.36 L243.78,386.18 L244.22,384.94 L244.66,383.66 L245.09,382.33 L245.53,380.95 L245.97,379.51 L246.41,378.03 L246.84,376.49 L247.28,374.89 L247.72,373.24 L248.16,371.54 L248.59,369.78 L249.03,367.98 L249.47,366.14 L249.91,364.25 L250.35,362.32 L250.78,360.36 L251.22,358.36 L251.66,356.34 L252.10,354.28 L252.53,352.20 L252.97,350.10 L253.41,348.01 L253.85,345.93 L254.28,343.87 L254.72,341.84 L255.16,339.86 L255.60,337.93 L256.04,336.06 L256.47,334.23 L256.91,332.46 L257.35,330.75 L257.79,329.08 L258.22,327.47 L258.66,325.92 L259.10,324.41 L259.54,322.97 L259.97,321.58 L260.41,320.24 L260.85,318.96 L261.29,317.74 L261.73,316.58 L262.16,315.47 L262.60,314.42 L263.04,313.43 L263.48,312.50 L263.91,311.63 L264.35,310.81 L264.79,310.06 L265.23,309.35 L265.66,308.71 L266.10,308.12 L266.54,307.58 L266.98,307.10 L267.42,306.67 L267.85,306.30 L268.29,305.98 L268.73,305.71 L269.17,305.49 L269.60,305.32 L270.04,305.20 L270.48,305.13 L270.92,305.11 L271.35,305.14 L271.79,305.21 L272.23,305.33 L272.67,305.50 L273.11,305.71 L273.54,305.97 L273.98,306.28 L274.42,306.63 L274.86,307.02 L275.29,307.45 L275.73,307.93 L276.17,308.45 L276.61,309.01 L277.04,309.61 L277.48,310.24 L277.92,310.92 L278.36,311.63 L278.79,312.37 L279.23,313.15 L279.67,313.96 L280.11,314.79 L280.55,315.65 L280.98,316.54 L281.42,317.45 L281.86,318.38 L282.30,319.33 L282.73,320.30 L283.17,321.29 L283.61,322.29 L284.05,323.30 L284.48,324.33 L284.92,325.37 L285.36,326.41 L285.80,327.46 L286.24,328.53 L286.67,329.60 L287.11,330.68 L287.55,331.78 L287.99,332.90 L288.42,334.03 L288.86,335.18 L289.30,336.36 L289.74,337.55 L290.17,338.77 L290.61,339.99 L291.05,341.20 L291.49,342.41 L291.93,343.60 L292.36,344.77 L292.80,345.90 L293.24,347.02 L293.68,348.11 L294.11,349.18 L294.55,350.24 L294.99,351.27 L295.43,352.30 L295.86,353.31 L296.30,354.31 L296.74,355.29 L297.18,356.28 L297.62,357.25 L298.05,358.22 L298.49,359.19 L298.93,360.16 L299.37,361.13 L299.80,362.11 L300.24,363.08 L300.68,364.06 L301.12,365.03 L301.55,366.00 L301.99,366.96 L302.43,367.91 L302.87,368.86 L303.31,369.79 L303.74,370.72 L304.18,371.62 L304.62,372.52 L305.06,373.39 L305.49,374.24 L305.93,375.08 L306.37,375.90 L306.81,376.70 L307.24,377.49 L307.68,378.26 L308.12,379.01 L308.56,379.74 L309.00,380.46 L309.43,381.17 L309.87,381.86 L310.31,382.53 L310.75,383.19 L311.18,383.83 L311.62,384.46 L312.06,385.08 L312.50,385.68 L312.93,386.27 L313.37,386.85 L313.81,387.41 L314.25,387.97 L314.69,388.51 L315.12,389.04 L315.56,389.55 L316.00,390.06 L316.44,390.55 L316.87,391.04 L317.31,391.51 L317.75,391.98 L318.19,392.43 L318.62,392.88 L319.06,393.31 L319.50,393.74" fill="none" stroke="#9c9c9c" stroke-width="1.5" stroke-linejoin="round" stroke-dasharray="14,4.3" stroke-dashoffset="2.43"/>
<line x1="171.00" y1="410.50" x2="171.00" y2="407.00" stroke="#1a1a1a" stroke-width="1.1"/>
<line x1="198.20" y1="410.50" x2="198.20" y2="407.00" stroke="#1a1a1a" stroke-width="1.1"/>
<line x1="225.40" y1="410.50" x2="225.40" y2="407.00" stroke="#1a1a1a" stroke-width="1.1"/>
<line x1="252.60" y1="410.50" x2="252.60" y2="407.00" stroke="#1a1a1a" stroke-width="1.1"/>
<line x1="279.80" y1="410.50" x2="279.80" y2="407.00" stroke="#1a1a1a" stroke-width="1.1"/>
<line x1="307.00" y1="410.50" x2="307.00" y2="407.00" stroke="#1a1a1a" stroke-width="1.1"/>
<line x1="164.40" y1="379.01" x2="167.90" y2="379.01" stroke="#1a1a1a" stroke-width="1.1"/>
<line x1="164.40" y1="347.42" x2="167.90" y2="347.42" stroke="#1a1a1a" stroke-width="1.1"/>
<line x1="164.40" y1="315.83" x2="167.90" y2="315.83" stroke="#1a1a1a" stroke-width="1.1"/>
<rect x="164.40" y="300.10" width="155.30" height="110.40" fill="none" stroke="#1a1a1a" stroke-width="1.5"/>
<text x="159.20" y="414.50" font-size="10.5" text-anchor="end" font-weight="normal" fill="#1a1a1a" style='font-family:"Liberation Sans", sans-serif'>0.0</text>
<text x="159.20" y="382.91" font-size="10.5" text-anchor="end" font-weight="normal" fill="#1a1a1a" style='font-family:"Liberation Sans", sans-serif'>0.3</text>
<text x="159.20" y="351.32" font-size="10.5" text-anchor="end" font-weight="normal" fill="#1a1a1a" style='font-family:"Liberation Sans", sans-serif'>0.6</text>
<text x="159.20" y="319.73" font-size="10.5" text-anchor="end" font-weight="normal" fill="#1a1a1a" style='font-family:"Liberation Sans", sans-serif'>0.9</text>
<text x="171.00" y="425.80" font-size="10.5" text-anchor="middle" font-weight="normal" fill="#1a1a1a" style='font-family:"Liberation Sans", sans-serif'>280</text>
<text x="198.20" y="425.80" font-size="10.5" text-anchor="middle" font-weight="normal" fill="#1a1a1a" style='font-family:"Liberation Sans", sans-serif'>320</text>
<text x="225.40" y="425.80" font-size="10.5" text-anchor="middle" font-weight="normal" fill="#1a1a1a" style='font-family:"Liberation Sans", sans-serif'>360</text>
<text x="252.60" y="425.80" font-size="10.5" text-anchor="middle" font-weight="normal" fill="#1a1a1a" style='font-family:"Liberation Sans", sans-serif'>400</text>
<text x="279.80" y="425.80" font-size="10.5" text-anchor="middle" font-weight="normal" fill="#1a1a1a" style='font-family:"Liberation Sans", sans-serif'>440</text>
<text x="307.00" y="425.80" font-size="10.5" text-anchor="middle" font-weight="normal" fill="#1a1a1a" style='font-family:"Liberation Sans", sans-serif'>480</text>
<text x="257.00" y="437.90" font-size="14" text-anchor="middle" font-weight="normal" fill="#1a1a1a" style='font-family:"Liberation Sans", sans-serif'>λ (nm)</text>
<text x="128.00" y="336.60" font-size="11.8" text-anchor="middle" font-weight="normal" fill="#1a1a1a" transform="rotate(-90 128.00 336.60)" textLength="42.5" lengthAdjust="spacingAndGlyphs" style='font-family:"Liberation Sans", sans-serif'>Relative</text>
<text x="141.80" y="344.80" font-size="11.8" text-anchor="middle" font-weight="normal" fill="#1a1a1a" transform="rotate(-90 141.80 344.80)" textLength="67.8" lengthAdjust="spacingAndGlyphs" style='font-family:"Liberation Sans", sans-serif'>fluorescence</text>
<line x1="458.50" y1="501.20" x2="458.50" y2="496.70" stroke="#1a1a1a" stroke-width="1.3"/>
<line x1="501.70" y1="501.20" x2="501.70" y2="496.70" stroke="#1a1a1a" stroke-width="1.3"/>
<line x1="544.90" y1="501.20" x2="544.90" y2="496.70" stroke="#1a1a1a" stroke-width="1.3"/>
<line x1="588.10" y1="501.20" x2="588.10" y2="496.70" stroke="#1a1a1a" stroke-width="1.3"/>
<line x1="631.30" y1="501.20" x2="631.30" y2="496.70" stroke="#1a1a1a" stroke-width="1.3"/>
<line x1="674.50" y1="501.20" x2="674.50" y2="496.70" stroke="#1a1a1a" stroke-width="1.3"/>
<line x1="415.30" y1="501.20" x2="415.30" y2="496.70" stroke="#1a1a1a" stroke-width="1.3"/>
<line x1="407.00" y1="461.60" x2="411.50" y2="461.60" stroke="#1a1a1a" stroke-width="1.3"/>
<line x1="407.00" y1="422.20" x2="411.50" y2="422.20" stroke="#1a1a1a" stroke-width="1.3"/>
<line x1="407.00" y1="382.80" x2="411.50" y2="382.80" stroke="#1a1a1a" stroke-width="1.3"/>
<line x1="407.00" y1="343.40" x2="411.50" y2="343.40" stroke="#1a1a1a" stroke-width="1.3"/>
<line x1="407.00" y1="304.00" x2="411.50" y2="304.00" stroke="#1a1a1a" stroke-width="1.3"/>
<rect x="407.00" y="294.20" width="276.50" height="207.00" fill="none" stroke="#1a1a1a" stroke-width="1.7"/>
<text x="400.10" y="507.20" font-size="14.5" text-anchor="end" font-weight="normal" fill="#1a1a1a" style='font-family:"Liberation Sans", sans-serif'>0.0</text>
<text x="400.10" y="467.80" font-size="14.5" text-anchor="end" font-weight="normal" fill="#1a1a1a" style='font-family:"Liberation Sans", sans-serif'>0.2</text>
<text x="400.10" y="428.40" font-size="14.5" text-anchor="end" font-weight="normal" fill="#1a1a1a" style='font-family:"Liberation Sans", sans-serif'>0.4</text>
<text x="400.10" y="389.00" font-size="14.5" text-anchor="end" font-weight="normal" fill="#1a1a1a" style='font-family:"Liberation Sans", sans-serif'>0.6</text>
<text x="400.10" y="349.60" font-size="14.5" text-anchor="end" font-weight="normal" fill="#1a1a1a" style='font-family:"Liberation Sans", sans-serif'>0.8</text>
<text x="400.10" y="310.20" font-size="14.5" text-anchor="end" font-weight="normal" fill="#1a1a1a" style='font-family:"Liberation Sans", sans-serif'>1.0</text>
<text x="415.30" y="521.80" font-size="14.5" text-anchor="middle" font-weight="normal" fill="#1a1a1a" style='font-family:"Liberation Sans", sans-serif'>0.0</text>
<text x="458.50" y="521.80" font-size="14.5" text-anchor="middle" font-weight="normal" fill="#1a1a1a" style='font-family:"Liberation Sans", sans-serif'>0.5</text>
<text x="501.70" y="521.80" font-size="14.5" text-anchor="middle" font-weight="normal" fill="#1a1a1a" style='font-family:"Liberation Sans", sans-serif'>1.0</text>
<text x="544.90" y="521.80" font-size="14.5" text-anchor="middle" font-weight="normal" fill="#1a1a1a" style='font-family:"Liberation Sans", sans-serif'>1.5</text>
<text x="588.10" y="521.80" font-size="14.5" text-anchor="middle" font-weight="normal" fill="#1a1a1a" style='font-family:"Liberation Sans", sans-serif'>2.0</text>
<text x="631.30" y="521.80" font-size="14.5" text-anchor="middle" font-weight="normal" fill="#1a1a1a" style='font-family:"Liberation Sans", sans-serif'>2.5</text>
<text x="674.50" y="521.80" font-size="14.5" text-anchor="middle" font-weight="normal" fill="#1a1a1a" style='font-family:"Liberation Sans", sans-serif'>3.0</text>
<text x="371.20" y="398.50" font-size="17" text-anchor="middle" font-weight="normal" fill="#1a1a1a" transform="rotate(-90 371.20 398.50)" textLength="235.5" lengthAdjust="spacingAndGlyphs" style='font-family:"Liberation Sans", sans-serif'>Relative fluorescence (332 nm)</text>
<text x="541.20" y="541.30" font-size="15.8" text-anchor="middle" font-weight="normal" fill="#1a1a1a" textLength="84" lengthAdjust="spacingAndGlyphs" style='font-family:"Liberation Sans", sans-serif'>[ATA] (<tspan style="font-family:Liberation Serif">μ</tspan>M)</text>
<text x="661.40" y="322.60" font-size="31" text-anchor="start" font-weight="bold" fill="#1a1a1a" style='font-family:"Liberation Sans", sans-serif'>d</text>
<path d="M415.30,304.00 L416.17,307.07 L417.03,309.83 L417.90,312.34 L418.77,314.63 L419.63,316.72 L420.50,318.64 L421.37,320.42 L422.24,322.05 L423.10,323.57 L423.97,324.99 L424.84,326.30 L425.70,327.53 L426.57,328.69 L427.44,329.77 L428.30,330.79 L429.17,331.74 L430.04,332.65 L430.90,333.50 L431.77,334.31 L432.64,335.08 L433.50,335.81 L434.37,336.50 L435.24,337.16 L436.11,337.79 L436.97,338.39 L437.84,338.96 L438.71,339.51 L439.57,340.03 L440.44,340.53 L441.31,341.02 L442.17,341.48 L443.04,341.92 L443.91,342.35 L444.77,342.76 L445.64,343.15 L446.51,343.53 L447.37,343.90 L448.24,344.25 L449.11,344.59 L449.98,344.92 L450.84,345.24 L451.71,345.55 L452.58,345.85 L453.44,346.14 L454.31,346.41 L455.18,346.69 L456.04,346.95 L456.91,347.20 L457.78,347.45 L458.64,347.69 L459.51,347.92 L460.38,348.15 L461.25,348.37 L462.11,348.58 L462.98,348.79 L463.85,348.99 L464.71,349.19 L465.58,349.38 L466.45,349.57 L467.31,349.75 L468.18,349.93 L469.05,350.10 L469.91,350.27 L470.78,350.44 L471.65,350.60 L472.51,350.76 L473.38,350.91 L474.25,351.06 L475.12,351.21 L475.98,351.35 L476.85,351.49 L477.72,351.63 L478.58,351.76 L479.45,351.89 L480.32,352.02 L481.18,352.14 L482.05,352.27 L482.92,352.39 L483.78,352.51 L484.65,352.62 L485.52,352.73 L486.38,352.85 L487.25,352.95 L488.12,353.06 L488.99,353.17 L489.85,353.27 L490.72,353.37 L491.59,353.47 L492.45,353.56 L493.32,353.66 L494.19,353.75 L495.05,353.84 L495.92,353.93 L496.79,354.02 L497.65,354.11 L498.52,354.20 L499.39,354.28 L500.26,354.36 L501.12,354.44 L501.99,354.52 L502.86,354.60 L503.72,354.68 L504.59,354.75 L505.46,354.83 L506.32,354.90 L507.19,354.97 L508.06,355.04 L508.92,355.11 L509.79,355.18 L510.66,355.25 L511.52,355.32 L512.39,355.38 L513.26,355.45 L514.13,355.51 L514.99,355.57 L515.86,355.64 L516.73,355.70 L517.59,355.76 L518.46,355.82 L519.33,355.87 L520.19,355.93 L521.06,355.99 L521.93,356.04 L522.79,356.10 L523.66,356.15 L524.53,356.21 L525.39,356.26 L526.26,356.31 L527.13,356.36 L528.00,356.41 L528.86,356.46 L529.73,356.51 L530.60,356.56 L531.46,356.61 L532.33,356.66 L533.20,356.70 L534.06,356.75 L534.93,356.80 L535.80,356.84 L536.66,356.89 L537.53,356.93 L538.40,356.97 L539.27,357.02 L540.13,357.06 L541.00,357.10 L541.87,357.14 L542.73,357.18 L543.60,357.22 L544.47,357.26 L545.33,357.30 L546.20,357.34 L547.07,357.38 L547.93,357.42 L548.80,357.45 L549.67,357.49 L550.53,357.53 L551.40,357.56 L552.27,357.60 L553.14,357.63 L554.00,357.67 L554.87,357.70 L555.74,357.74 L556.60,357.77 L557.47,357.81 L558.34,357.84 L559.20,357.87 L560.07,357.90 L560.94,357.94 L561.80,357.97 L562.67,358.00 L563.54,358.03 L564.41,358.06 L565.27,358.09 L566.14,358.12 L567.01,358.15 L567.87,358.18 L568.74,358.21 L569.61,358.24 L570.47,358.27 L571.34,358.30 L572.21,358.32 L573.07,358.35 L573.94,358.38 L574.81,358.41 L575.67,358.43 L576.54,358.46 L577.41,358.49 L578.28,358.51 L579.14,358.54 L580.01,358.56 L580.88,358.59 L581.74,358.61 L582.61,358.64 L583.48,358.66 L584.34,358.69 L585.21,358.71 L586.08,358.74 L586.94,358.76 L587.81,358.78 L588.68,358.81 L589.54,358.83 L590.41,358.85 L591.28,358.88 L592.15,358.90 L593.01,358.92 L593.88,358.94 L594.75,358.97 L595.61,358.99 L596.48,359.01 L597.35,359.03 L598.21,359.05 L599.08,359.07 L599.95,359.09 L600.81,359.11 L601.68,359.13 L602.55,359.15 L603.42,359.17 L604.28,359.19 L605.15,359.21 L606.02,359.23 L606.88,359.25 L607.75,359.27 L608.62,359.29 L609.48,359.31 L610.35,359.33 L611.22,359.35 L612.08,359.37 L612.95,359.38 L613.82,359.40 L614.68,359.42 L615.55,359.44 L616.42,359.46 L617.29,359.47 L618.15,359.49 L619.02,359.51 L619.89,359.53 L620.75,359.54 L621.62,359.56 L622.49,359.58 L623.35,359.59 L624.22,359.61 L625.09,359.63 L625.95,359.64 L626.82,359.66 L627.69,359.68 L628.55,359.69 L629.42,359.71 L630.29,359.72 L631.16,359.74 L632.02,359.75 L632.89,359.77 L633.76,359.78 L634.62,359.80 L635.49,359.81 L636.36,359.83 L637.22,359.84 L638.09,359.86 L638.96,359.87 L639.82,359.89 L640.69,359.90 L641.56,359.92 L642.43,359.93 L643.29,359.94 L644.16,359.96 L645.03,359.97 L645.89,359.99 L646.76,360.00 L647.63,360.01 L648.49,360.03 L649.36,360.04 L650.23,360.05 L651.09,360.07 L651.96,360.08 L652.83,360.09 L653.69,360.11 L654.56,360.12 L655.43,360.13 L656.30,360.14 L657.16,360.16 L658.03,360.17 L658.90,360.18 L659.76,360.19 L660.63,360.21 L661.50,360.22 L662.36,360.23 L663.23,360.24 L664.10,360.25 L664.96,360.27 L665.83,360.28 L666.70,360.29 L667.56,360.30 L668.43,360.31 L669.30,360.32 L670.17,360.34 L671.03,360.35 L671.90,360.36 L672.77,360.37 L673.63,360.38 L674.50,360.39" fill="none" stroke="#1a1a1a" stroke-width="1.4" stroke-linejoin="round"/>
<circle cx="415.00" cy="303.50" r="4.0" fill="#111" stroke="#111" stroke-width="0.5"/>
<circle cx="419.80" cy="311.50" r="4.0" fill="#111" stroke="#111" stroke-width="0.5"/>
<circle cx="419.80" cy="315.00" r="4.0" fill="#111" stroke="#111" stroke-width="0.5"/>
<circle cx="419.60" cy="318.50" r="4.0" fill="#111" stroke="#111" stroke-width="0.5"/>
<circle cx="418.50" cy="322.00" r="4.0" fill="#111" stroke="#111" stroke-width="0.5"/>
<circle cx="423.50" cy="325.00" r="4.0" fill="#111" stroke="#111" stroke-width="0.5"/>
<circle cx="427.50" cy="329.00" r="4.0" fill="#111" stroke="#111" stroke-width="0.5"/>
<circle cx="428.00" cy="333.00" r="4.0" fill="#111" stroke="#111" stroke-width="0.5"/>
<circle cx="428.00" cy="337.00" r="4.0" fill="#111" stroke="#111" stroke-width="0.5"/>
<circle cx="440.90" cy="338.60" r="4.0" fill="#111" stroke="#111" stroke-width="0.5"/>
<circle cx="440.90" cy="341.00" r="4.0" fill="#111" stroke="#111" stroke-width="0.5"/>
<circle cx="440.90" cy="343.60" r="4.0" fill="#111" stroke="#111" stroke-width="0.5"/>
<circle cx="467.30" cy="342.30" r="4.0" fill="#111" stroke="#111" stroke-width="0.5"/>
<circle cx="467.30" cy="345.70" r="4.0" fill="#111" stroke="#111" stroke-width="0.5"/>
<circle cx="467.30" cy="356.30" r="4.0" fill="#111" stroke="#111" stroke-width="0.5"/>
<circle cx="501.80" cy="348.00" r="4.0" fill="#111" stroke="#111" stroke-width="0.5"/>
<circle cx="501.80" cy="350.50" r="4.0" fill="#111" stroke="#111" stroke-width="0.5"/>
<circle cx="501.80" cy="352.70" r="4.0" fill="#111" stroke="#111" stroke-width="0.5"/>
<circle cx="501.80" cy="363.10" r="4.0" fill="#111" stroke="#111" stroke-width="0.5"/>
<circle cx="674.80" cy="361.00" r="4.0" fill="#111" stroke="#111" stroke-width="0.5"/>
<circle cx="674.80" cy="363.50" r="4.0" fill="#111" stroke="#111" stroke-width="0.5"/>
<circle cx="674.80" cy="366.00" r="4.0" fill="#111" stroke="#111" stroke-width="0.5"/>
<rect x="512.8" y="367.4" width="155.80000000000007" height="104.0" fill="white" stroke="none"/>
<line x1="544.18" y1="471.40" x2="544.18" y2="467.90" stroke="#1a1a1a" stroke-width="1.1"/>
<line x1="568.15" y1="471.40" x2="568.15" y2="467.90" stroke="#1a1a1a" stroke-width="1.1"/>
<line x1="592.12" y1="471.40" x2="592.12" y2="467.90" stroke="#1a1a1a" stroke-width="1.1"/>
<line x1="616.10" y1="471.40" x2="616.10" y2="467.90" stroke="#1a1a1a" stroke-width="1.1"/>
<line x1="640.08" y1="471.40" x2="640.08" y2="467.90" stroke="#1a1a1a" stroke-width="1.1"/>
<line x1="664.05" y1="471.40" x2="664.05" y2="467.90" stroke="#1a1a1a" stroke-width="1.1"/>
<line x1="520.20" y1="471.40" x2="520.20" y2="467.90" stroke="#1a1a1a" stroke-width="1.1"/>
<line x1="512.80" y1="464.10" x2="516.30" y2="464.10" stroke="#1a1a1a" stroke-width="1.1"/>
<line x1="512.80" y1="434.50" x2="516.30" y2="434.50" stroke="#1a1a1a" stroke-width="1.1"/>
<line x1="512.80" y1="404.90" x2="516.30" y2="404.90" stroke="#1a1a1a" stroke-width="1.1"/>
<line x1="512.80" y1="375.30" x2="516.30" y2="375.30" stroke="#1a1a1a" stroke-width="1.1"/>
<rect x="512.80" y="367.40" width="155.80" height="104.00" fill="none" stroke="#1a1a1a" stroke-width="1.5"/>
<path d="M520.20,464.10 L520.68,461.87 L521.16,459.79 L521.64,457.83 L522.12,455.99 L522.61,454.25 L523.09,452.61 L523.57,451.07 L524.05,449.60 L524.53,448.21 L525.01,446.89 L525.49,445.64 L525.97,444.44 L526.45,443.30 L526.94,442.22 L527.42,441.18 L527.90,440.19 L528.38,439.24 L528.86,438.33 L529.34,437.46 L529.82,436.62 L530.30,435.82 L530.78,435.04 L531.27,434.30 L531.75,433.58 L532.23,432.89 L532.71,432.23 L533.19,431.59 L533.67,430.97 L534.15,430.37 L534.63,429.79 L535.11,429.24 L535.60,428.70 L536.08,428.17 L536.56,427.67 L537.04,427.18 L537.52,426.70 L538.00,426.24 L538.48,425.79 L538.96,425.35 L539.44,424.93 L539.93,424.52 L540.41,424.12 L540.89,423.73 L541.37,423.36 L541.85,422.99 L542.33,422.63 L542.81,422.28 L543.29,421.94 L543.77,421.61 L544.26,421.29 L544.74,420.98 L545.22,420.67 L545.70,420.37 L546.18,420.08 L546.66,419.79 L547.14,419.51 L547.62,419.24 L548.10,418.98 L548.59,418.72 L549.07,418.46 L549.55,418.21 L550.03,417.97 L550.51,417.73 L550.99,417.50 L551.47,417.27 L551.95,417.05 L552.43,416.83 L552.92,416.62 L553.40,416.41 L553.88,416.20 L554.36,416.00 L554.84,415.80 L555.32,415.61 L555.80,415.42 L556.28,415.23 L556.76,415.05 L557.24,414.87 L557.73,414.70 L558.21,414.52 L558.69,414.35 L559.17,414.19 L559.65,414.02 L560.13,413.86 L560.61,413.70 L561.09,413.55 L561.57,413.40 L562.06,413.25 L562.54,413.10 L563.02,412.96 L563.50,412.81 L563.98,412.67 L564.46,412.54 L564.94,412.40 L565.42,412.27 L565.90,412.14 L566.39,412.01 L566.87,411.88 L567.35,411.76 L567.83,411.63 L568.31,411.51 L568.79,411.39 L569.27,411.28 L569.75,411.16 L570.23,411.05 L570.72,410.93 L571.20,410.82 L571.68,410.71 L572.16,410.61 L572.64,410.50 L573.12,410.40 L573.60,410.29 L574.08,410.19 L574.56,410.09 L575.05,409.99 L575.53,409.90 L576.01,409.80 L576.49,409.71 L576.97,409.61 L577.45,409.52 L577.93,409.43 L578.41,409.34 L578.89,409.25 L579.38,409.17 L579.86,409.08 L580.34,409.00 L580.82,408.91 L581.30,408.83 L581.78,408.75 L582.26,408.67 L582.74,408.59 L583.22,408.51 L583.71,408.43 L584.19,408.35 L584.67,408.28 L585.15,408.20 L585.63,408.13 L586.11,408.06 L586.59,407.98 L587.07,407.91 L587.55,407.84 L588.04,407.77 L588.52,407.70 L589.00,407.63 L589.48,407.57 L589.96,407.50 L590.44,407.43 L590.92,407.37 L591.40,407.31 L591.88,407.24 L592.37,407.18 L592.85,407.12 L593.33,407.06 L593.81,406.99 L594.29,406.93 L594.77,406.87 L595.25,406.82 L595.73,406.76 L596.21,406.70 L596.70,406.64 L597.18,406.59 L597.66,406.53 L598.14,406.48 L598.62,406.42 L599.10,406.37 L599.58,406.31 L600.06,406.26 L600.54,406.21 L601.03,406.16 L601.51,406.10 L601.99,406.05 L602.47,406.00 L602.95,405.95 L603.43,405.90 L603.91,405.85 L604.39,405.81 L604.87,405.76 L605.36,405.71 L605.84,405.66 L606.32,405.62 L606.80,405.57 L607.28,405.53 L607.76,405.48 L608.24,405.44 L608.72,405.39 L609.20,405.35 L609.69,405.30 L610.17,405.26 L610.65,405.22 L611.13,405.17 L611.61,405.13 L612.09,405.09 L612.57,405.05 L613.05,405.01 L613.53,404.97 L614.02,404.93 L614.50,404.89 L614.98,404.85 L615.46,404.81 L615.94,404.77 L616.42,404.73 L616.90,404.69 L617.38,404.66 L617.86,404.62 L618.35,404.58 L618.83,404.55 L619.31,404.51 L619.79,404.47 L620.27,404.44 L620.75,404.40 L621.23,404.37 L621.71,404.33 L622.19,404.30 L622.68,404.26 L623.16,404.23 L623.64,404.19 L624.12,404.16 L624.60,404.13 L625.08,404.09 L625.56,404.06 L626.04,404.03 L626.52,404.00 L627.01,403.96 L627.49,403.93 L627.97,403.90 L628.45,403.87 L628.93,403.84 L629.41,403.81 L629.89,403.78 L630.37,403.75 L630.85,403.72 L631.33,403.69 L631.82,403.66 L632.30,403.63 L632.78,403.60 L633.26,403.57 L633.74,403.54 L634.22,403.51 L634.70,403.48 L635.18,403.46 L635.66,403.43 L636.15,403.40 L636.63,403.37 L637.11,403.35 L637.59,403.32 L638.07,403.29 L638.55,403.27 L639.03,403.24 L639.51,403.21 L639.99,403.19 L640.48,403.16 L640.96,403.14 L641.44,403.11 L641.92,403.08 L642.40,403.06 L642.88,403.03 L643.36,403.01 L643.84,402.99 L644.32,402.96 L644.81,402.94 L645.29,402.91 L645.77,402.89 L646.25,402.86 L646.73,402.84 L647.21,402.82 L647.69,402.79 L648.17,402.77 L648.65,402.75 L649.14,402.72 L649.62,402.70 L650.10,402.68 L650.58,402.66 L651.06,402.64 L651.54,402.61 L652.02,402.59 L652.50,402.57 L652.98,402.55 L653.47,402.53 L653.95,402.50 L654.43,402.48 L654.91,402.46 L655.39,402.44 L655.87,402.42 L656.35,402.40 L656.83,402.38 L657.31,402.36 L657.80,402.34 L658.28,402.32 L658.76,402.30 L659.24,402.28 L659.72,402.26 L660.20,402.24 L660.68,402.22 L661.16,402.20 L661.64,402.18 L662.13,402.16 L662.61,402.14 L663.09,402.12 L663.57,402.10 L664.05,402.09" fill="none" stroke="#333" stroke-width="1.0" stroke-linejoin="round" stroke-dasharray="12.4,3.6" stroke-dashoffset="7.98"/>
<circle cx="519.80" cy="464.00" r="3.4" fill="#111" stroke="#111" stroke-width="0.4"/>
<circle cx="522.80" cy="449.00" r="3.4" fill="#111" stroke="#111" stroke-width="0.4"/>
<circle cx="522.80" cy="452.50" r="3.4" fill="#111" stroke="#111" stroke-width="0.4"/>
<circle cx="522.80" cy="456.00" r="3.4" fill="#111" stroke="#111" stroke-width="0.4"/>
<circle cx="524.80" cy="443.00" r="3.4" fill="#111" stroke="#111" stroke-width="0.4"/>
<circle cx="526.00" cy="440.00" r="3.4" fill="#111" stroke="#111" stroke-width="0.4"/>
<circle cx="527.00" cy="436.00" r="3.4" fill="#111" stroke="#111" stroke-width="0.4"/>
<circle cx="528.00" cy="433.00" r="3.4" fill="#111" stroke="#111" stroke-width="0.4"/>
<circle cx="534.60" cy="426.00" r="3.4" fill="#111" stroke="#111" stroke-width="0.4"/>
<circle cx="534.60" cy="429.50" r="3.4" fill="#111" stroke="#111" stroke-width="0.4"/>
<circle cx="534.60" cy="432.50" r="3.4" fill="#111" stroke="#111" stroke-width="0.4"/>
<circle cx="548.90" cy="409.60" r="3.4" fill="#111" stroke="#111" stroke-width="0.4"/>
<circle cx="548.90" cy="423.50" r="3.4" fill="#111" stroke="#111" stroke-width="0.4"/>
<circle cx="548.90" cy="427.00" r="3.4" fill="#111" stroke="#111" stroke-width="0.4"/>
<circle cx="568.20" cy="400.10" r="3.4" fill="#111" stroke="#111" stroke-width="0.4"/>
<circle cx="568.20" cy="414.50" r="3.4" fill="#111" stroke="#111" stroke-width="0.4"/>
<circle cx="568.20" cy="418.00" r="3.4" fill="#111" stroke="#111" stroke-width="0.4"/>
<circle cx="568.20" cy="421.00" r="3.4" fill="#111" stroke="#111" stroke-width="0.4"/>
<circle cx="663.40" cy="394.50" r="3.4" fill="#111" stroke="#111" stroke-width="0.4"/>
<circle cx="663.40" cy="397.00" r="3.4" fill="#111" stroke="#111" stroke-width="0.4"/>
<circle cx="663.40" cy="403.50" r="3.4" fill="#111" stroke="#111" stroke-width="0.4"/>
<text x="508.40" y="468.00" font-size="10.3" text-anchor="end" font-weight="normal" fill="#1a1a1a" style='font-family:"Liberation Sans", sans-serif'>1.0</text>
<text x="508.40" y="438.40" font-size="10.3" text-anchor="end" font-weight="normal" fill="#1a1a1a" style='font-family:"Liberation Sans", sans-serif'>1.2</text>
<text x="508.40" y="408.80" font-size="10.3" text-anchor="end" font-weight="normal" fill="#1a1a1a" style='font-family:"Liberation Sans", sans-serif'>1.4</text>
<text x="508.40" y="379.20" font-size="10.3" text-anchor="end" font-weight="normal" fill="#1a1a1a" style='font-family:"Liberation Sans", sans-serif'>1.6</text>
<text x="520.20" y="487.20" font-size="10.3" text-anchor="middle" font-weight="normal" fill="#1a1a1a" style='font-family:"Liberation Sans", sans-serif'>0</text>
<text x="544.18" y="487.20" font-size="10.3" text-anchor="middle" font-weight="normal" fill="#1a1a1a" style='font-family:"Liberation Sans", sans-serif'>5e-7</text>
<text x="568.15" y="487.20" font-size="10.3" text-anchor="middle" font-weight="normal" fill="#1a1a1a" style='font-family:"Liberation Sans", sans-serif'>1e-6</text>
<text x="592.12" y="487.20" font-size="10.3" text-anchor="middle" font-weight="normal" fill="#1a1a1a" style='font-family:"Liberation Sans", sans-serif'>1e-6</text>
<text x="616.10" y="487.20" font-size="10.3" text-anchor="middle" font-weight="normal" fill="#1a1a1a" style='font-family:"Liberation Sans", sans-serif'>2e-6</text>
<text x="640.08" y="487.20" font-size="10.3" text-anchor="middle" font-weight="normal" fill="#1a1a1a" style='font-family:"Liberation Sans", sans-serif'>2e-6</text>
<text x="664.05" y="487.20" font-size="10.3" text-anchor="middle" font-weight="normal" fill="#1a1a1a" style='font-family:"Liberation Sans", sans-serif'>3e-6</text>
<text x="605.50" y="498.30" font-size="10.3" text-anchor="middle" font-weight="normal" fill="#1a1a1a" style='font-family:"Liberation Sans", sans-serif'>[ATA] (M)</text>
<text x="488.50" y="415.40" font-size="14.5" text-anchor="middle" font-weight="normal" fill="#1a1a1a" transform="rotate(-90 488.50 415.40)" style='font-family:"Liberation Sans", sans-serif'>F<tspan font-size="8.5" dy="3.5">0</tspan><tspan dy="-3.5">/F</tspan></text>
</svg></body></html>
